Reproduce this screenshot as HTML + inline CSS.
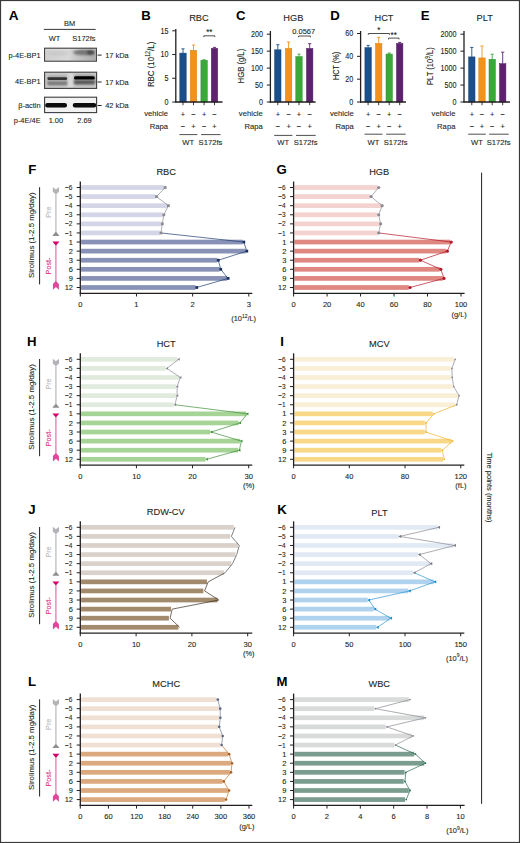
<!DOCTYPE html>
<html><head><meta charset="utf-8"><style>
html,body{margin:0;padding:0;background:#fff;}
body{width:520px;height:843px;overflow:hidden;}
svg{display:block;font-family:"Liberation Sans", sans-serif;}
</style></head><body>
<svg width="520" height="843" viewBox="0 0 520 843">
<rect x="0" y="0" width="520" height="843" fill="#fff"/>
<text transform="translate(13.60,20.20)" font-size="13.60" text-anchor="middle" fill="#000" stroke="#000" stroke-width="0" font-weight="bold" >A</text>
<text transform="translate(69.60,26.30) scale(0.950,1)" font-size="7.84" text-anchor="middle" fill="#231f20" stroke="#231f20" stroke-width="0.1" font-weight="normal" >BM</text>
<line x1="43.80" y1="29.40" x2="95.70" y2="29.40" stroke="#231f20" stroke-width="0.9" />
<text transform="translate(54.50,40.60) scale(0.950,1)" font-size="7.84" text-anchor="middle" fill="#231f20" stroke="#231f20" stroke-width="0.1" font-weight="normal" >WT</text>
<text transform="translate(83.90,40.60) scale(0.950,1)" font-size="7.84" text-anchor="middle" fill="#231f20" stroke="#231f20" stroke-width="0.1" font-weight="normal" >S172fs</text>
<defs>
<filter id="blur1" x="-20%" y="-50%" width="140%" height="200%"><feGaussianBlur stdDeviation="0.9"/></filter>
<filter id="blur2" x="-20%" y="-50%" width="140%" height="200%"><feGaussianBlur stdDeviation="0.6"/></filter>
<linearGradient id="g1" x1="0" x2="1" y1="0" y2="0">
<stop offset="0" stop-color="#cfcfcf"/><stop offset="0.45" stop-color="#d9d9d9"/><stop offset="0.6" stop-color="#c8c8c8"/><stop offset="1" stop-color="#a9a9a9"/></linearGradient>
</defs>
<rect x="44.80" y="48.40" width="51.40" height="12.60" fill="url(#g1)" />
<ellipse cx="84" cy="52.4" rx="11" ry="2.8" fill="#6a6a6a" opacity="0.85" filter="url(#blur1)"/>
<ellipse cx="90.5" cy="52.4" rx="3.5" ry="2.2" fill="#3c3c3c" opacity="0.8" filter="url(#blur1)"/>
<ellipse cx="58" cy="53.5" rx="11" ry="2.6" fill="#c4c4c4" opacity="0.6" filter="url(#blur1)"/>
<rect x="45.60" y="49.10" width="50.20" height="11.20" fill="none" stroke="#f4f4f4" stroke-width="0.6" opacity="0.7"/>
<rect x="44.60" y="48.20" width="51.80" height="13.00" fill="none" stroke="#3c3c3c" stroke-width="1.1"/>
<rect x="44.80" y="72.40" width="51.60" height="15.80" fill="#cbcbcb" />
<rect x="47" y="75.5" width="21" height="10" rx="3" fill="#a8a8a8" filter="url(#blur1)"/>
<rect x="73.5" y="74.8" width="22" height="10.5" rx="3" fill="#9a9a9a" filter="url(#blur1)"/>
<rect x="67.80" y="72.40" width="5.20" height="15.80" fill="#d8d8d8" filter="url(#blur1)"/>
<rect x="47.4" y="77.3" width="19.8" height="2.6" rx="1.3" fill="#333" filter="url(#blur2)"/>
<rect x="47.4" y="81.9" width="19.8" height="2.8" rx="1.3" fill="#707070" filter="url(#blur1)"/>
<rect x="74.0" y="76.2" width="20.8" height="3.4" rx="1.6" fill="#060606" filter="url(#blur2)"/>
<rect x="74.0" y="80.8" width="20.8" height="3.0" rx="1.4" fill="#4c4c4c" filter="url(#blur1)"/>
<rect x="44.60" y="72.20" width="52.00" height="16.20" fill="none" stroke="#3c3c3c" stroke-width="1.1"/>
<rect x="44.80" y="97.40" width="51.60" height="15.00" fill="#f2f2f2" />
<rect x="45.2" y="103.0" width="21.8" height="4.6" rx="2.1" fill="#0a0a0a" filter="url(#blur2)"/>
<rect x="72.8" y="103.0" width="23.4" height="4.6" rx="2.1" fill="#0a0a0a" filter="url(#blur2)"/>
<rect x="44.60" y="97.20" width="52.00" height="15.40" fill="none" stroke="#3c3c3c" stroke-width="1.1"/>
<text transform="translate(40.60,57.80) scale(0.950,1)" font-size="7.84" text-anchor="end" fill="#231f20" stroke="#231f20" stroke-width="0.1" font-weight="normal" >p-4E-BP1</text>
<text transform="translate(40.60,83.90) scale(0.950,1)" font-size="7.84" text-anchor="end" fill="#231f20" stroke="#231f20" stroke-width="0.1" font-weight="normal" >4E-BP1</text>
<text transform="translate(40.60,107.70) scale(0.950,1)" font-size="7.84" text-anchor="end" fill="#231f20" stroke="#231f20" stroke-width="0.1" font-weight="normal" >β-actin</text>
<text transform="translate(40.60,122.70) scale(0.950,1)" font-size="7.84" text-anchor="end" fill="#231f20" stroke="#231f20" stroke-width="0.1" font-weight="normal" >p-4E/4E</text>
<line x1="97.60" y1="55.10" x2="101.60" y2="55.10" stroke="#231f20" stroke-width="1.0" />
<text transform="translate(105.20,57.70) scale(0.950,1)" font-size="7.84" text-anchor="start" fill="#231f20" stroke="#231f20" stroke-width="0.1" font-weight="normal" >17 kDa</text>
<line x1="97.60" y1="82.00" x2="101.60" y2="82.00" stroke="#231f20" stroke-width="1.0" />
<text transform="translate(105.20,84.60) scale(0.950,1)" font-size="7.84" text-anchor="start" fill="#231f20" stroke="#231f20" stroke-width="0.1" font-weight="normal" >17 kDa</text>
<line x1="97.60" y1="105.50" x2="101.60" y2="105.50" stroke="#231f20" stroke-width="1.0" />
<text transform="translate(105.20,108.10) scale(0.950,1)" font-size="7.84" text-anchor="start" fill="#231f20" stroke="#231f20" stroke-width="0.1" font-weight="normal" >42 kDa</text>
<text transform="translate(55.90,122.70) scale(0.950,1)" font-size="7.84" text-anchor="middle" fill="#231f20" stroke="#231f20" stroke-width="0.1" font-weight="normal" >1.00</text>
<text transform="translate(84.50,122.70) scale(0.950,1)" font-size="7.84" text-anchor="middle" fill="#231f20" stroke="#231f20" stroke-width="0.1" font-weight="normal" >2.69</text>
<text transform="translate(145.90,20.30)" font-size="13.20" text-anchor="middle" fill="#000" stroke="#000" stroke-width="0" font-weight="bold" >B</text>
<text transform="translate(198.90,21.30) scale(0.950,1)" font-size="9.75" text-anchor="middle" fill="#231f20" stroke="#231f20" stroke-width="0.1" font-weight="normal" >RBC</text>
<line x1="183.00" y1="48.84" x2="183.00" y2="53.11" stroke="#1b4f8a" stroke-width="0.9" />
<line x1="181.40" y1="48.84" x2="184.60" y2="48.84" stroke="#1b4f8a" stroke-width="0.9" />
<rect x="179.80" y="53.11" width="6.40" height="48.89" fill="#1b4f8a" />
<rect x="179.80" y="53.11" width="6.40" height="48.89" fill="none" stroke="#173f70" stroke-width="0.5"/>
<line x1="193.50" y1="45.04" x2="193.50" y2="50.26" stroke="#f39218" stroke-width="0.9" />
<line x1="191.90" y1="45.04" x2="195.10" y2="45.04" stroke="#f39218" stroke-width="0.9" />
<rect x="190.30" y="50.26" width="6.40" height="51.74" fill="#f39218" />
<rect x="190.30" y="50.26" width="6.40" height="51.74" fill="none" stroke="#d67f14" stroke-width="0.5"/>
<line x1="204.10" y1="59.75" x2="204.10" y2="60.23" stroke="#3aa93a" stroke-width="0.9" />
<line x1="202.50" y1="59.75" x2="205.70" y2="59.75" stroke="#3aa93a" stroke-width="0.9" />
<rect x="200.90" y="60.23" width="6.40" height="41.77" fill="#3aa93a" />
<rect x="200.90" y="60.23" width="6.40" height="41.77" fill="none" stroke="#2f8f30" stroke-width="0.5"/>
<line x1="214.50" y1="47.41" x2="214.50" y2="48.36" stroke="#5e2170" stroke-width="0.9" />
<line x1="212.90" y1="47.41" x2="216.10" y2="47.41" stroke="#5e2170" stroke-width="0.9" />
<rect x="211.30" y="48.36" width="6.40" height="53.64" fill="#5e2170" />
<rect x="211.30" y="48.36" width="6.40" height="53.64" fill="none" stroke="#4a1a5a" stroke-width="0.5"/>
<line x1="175.80" y1="29.00" x2="175.80" y2="102.60" stroke="#231f20" stroke-width="1.3" />
<line x1="175.20" y1="102.00" x2="222.50" y2="102.00" stroke="#231f20" stroke-width="1.3" />
<line x1="183.00" y1="102.00" x2="183.00" y2="105.20" stroke="#231f20" stroke-width="0.9" />
<line x1="193.50" y1="102.00" x2="193.50" y2="105.20" stroke="#231f20" stroke-width="0.9" />
<line x1="204.10" y1="102.00" x2="204.10" y2="105.20" stroke="#231f20" stroke-width="0.9" />
<line x1="214.50" y1="102.00" x2="214.50" y2="105.20" stroke="#231f20" stroke-width="0.9" />
<line x1="172.20" y1="102.00" x2="175.80" y2="102.00" stroke="#231f20" stroke-width="1.0" />
<text transform="translate(168.40,104.85) scale(0.950,1)" font-size="8.48" text-anchor="end" fill="#231f20" stroke="#231f20" stroke-width="0.1" font-weight="normal"  textLength="4.21" lengthAdjust="spacingAndGlyphs">0</text>
<line x1="172.20" y1="78.27" x2="175.80" y2="78.27" stroke="#231f20" stroke-width="1.0" />
<text transform="translate(168.40,81.12) scale(0.950,1)" font-size="8.48" text-anchor="end" fill="#231f20" stroke="#231f20" stroke-width="0.1" font-weight="normal"  textLength="4.21" lengthAdjust="spacingAndGlyphs">5</text>
<line x1="172.20" y1="54.53" x2="175.80" y2="54.53" stroke="#231f20" stroke-width="1.0" />
<text transform="translate(168.40,57.38) scale(0.950,1)" font-size="8.48" text-anchor="end" fill="#231f20" stroke="#231f20" stroke-width="0.1" font-weight="normal"  textLength="8.42" lengthAdjust="spacingAndGlyphs">10</text>
<line x1="172.20" y1="30.80" x2="175.80" y2="30.80" stroke="#231f20" stroke-width="1.0" />
<text transform="translate(168.40,33.65) scale(0.950,1)" font-size="8.48" text-anchor="end" fill="#231f20" stroke="#231f20" stroke-width="0.1" font-weight="normal"  textLength="8.42" lengthAdjust="spacingAndGlyphs">15</text>
<text transform="translate(153.60,64.40) rotate(-90) scale(0.8221,1)" font-size="9.6" text-anchor="middle" fill="#231f20" stroke="#231f20" stroke-width="0.1" >RBC (10<tspan font-size="6.5" dy="-3.5">12</tspan><tspan dy="3.5">/L)</tspan></text>
<text transform="translate(168.00,116.40) scale(0.950,1)" font-size="8.06" text-anchor="end" fill="#231f20" stroke="#231f20" stroke-width="0.1" font-weight="normal" >vehicle</text>
<text transform="translate(168.00,128.60) scale(0.950,1)" font-size="8.06" text-anchor="end" fill="#231f20" stroke="#231f20" stroke-width="0.1" font-weight="normal" >Rapa</text>
<text transform="translate(183.00,116.60) scale(0.950,1)" font-size="7.84" text-anchor="middle" fill="#231f20" stroke="#231f20" stroke-width="0.1" font-weight="normal" >+</text>
<text transform="translate(183.00,128.80) scale(0.950,1)" font-size="7.84" text-anchor="middle" fill="#231f20" stroke="#231f20" stroke-width="0.1" font-weight="normal" >−</text>
<text transform="translate(193.50,116.60) scale(0.950,1)" font-size="7.84" text-anchor="middle" fill="#231f20" stroke="#231f20" stroke-width="0.1" font-weight="normal" >−</text>
<text transform="translate(193.50,128.80) scale(0.950,1)" font-size="7.84" text-anchor="middle" fill="#231f20" stroke="#231f20" stroke-width="0.1" font-weight="normal" >+</text>
<text transform="translate(204.10,116.60) scale(0.950,1)" font-size="7.84" text-anchor="middle" fill="#231f20" stroke="#231f20" stroke-width="0.1" font-weight="normal" >+</text>
<text transform="translate(204.10,128.80) scale(0.950,1)" font-size="7.84" text-anchor="middle" fill="#231f20" stroke="#231f20" stroke-width="0.1" font-weight="normal" >−</text>
<text transform="translate(214.50,116.60) scale(0.950,1)" font-size="7.84" text-anchor="middle" fill="#231f20" stroke="#231f20" stroke-width="0.1" font-weight="normal" >−</text>
<text transform="translate(214.50,128.80) scale(0.950,1)" font-size="7.84" text-anchor="middle" fill="#231f20" stroke="#231f20" stroke-width="0.1" font-weight="normal" >+</text>
<line x1="179.40" y1="134.60" x2="197.30" y2="134.60" stroke="#231f20" stroke-width="0.8" />
<line x1="201.10" y1="134.60" x2="220.50" y2="134.60" stroke="#231f20" stroke-width="0.8" />
<text transform="translate(188.25,145.40) scale(0.950,1)" font-size="8.06" text-anchor="middle" fill="#231f20" stroke="#231f20" stroke-width="0.1" font-weight="normal" >WT</text>
<text transform="translate(210.50,145.40) scale(0.950,1)" font-size="8.06" text-anchor="middle" fill="#231f20" stroke="#231f20" stroke-width="0.1" font-weight="normal" >S172fs</text>
<line x1="203.80" y1="35.80" x2="214.80" y2="35.80" stroke="#231f20" stroke-width="0.8" />
<line x1="203.80" y1="35.80" x2="203.80" y2="37.10" stroke="#231f20" stroke-width="0.8" />
<line x1="214.80" y1="35.80" x2="214.80" y2="37.10" stroke="#231f20" stroke-width="0.8" />
<text transform="translate(209.30,35.00) scale(0.950,1)" font-size="8.48" text-anchor="middle" fill="#231f20" stroke="#231f20" stroke-width="0.1" font-weight="normal" >**</text>
<text transform="translate(240.80,20.30)" font-size="13.20" text-anchor="middle" fill="#000" stroke="#000" stroke-width="0" font-weight="bold" >C</text>
<text transform="translate(293.40,21.30) scale(0.950,1)" font-size="9.75" text-anchor="middle" fill="#231f20" stroke="#231f20" stroke-width="0.1" font-weight="normal" >HGB</text>
<line x1="277.80" y1="44.71" x2="277.80" y2="49.79" stroke="#1b4f8a" stroke-width="0.9" />
<line x1="276.20" y1="44.71" x2="279.40" y2="44.71" stroke="#1b4f8a" stroke-width="0.9" />
<rect x="274.60" y="49.79" width="6.40" height="52.21" fill="#1b4f8a" />
<rect x="274.60" y="49.79" width="6.40" height="52.21" fill="none" stroke="#173f70" stroke-width="0.5"/>
<line x1="288.60" y1="42.00" x2="288.60" y2="48.44" stroke="#f39218" stroke-width="0.9" />
<line x1="287.00" y1="42.00" x2="290.20" y2="42.00" stroke="#f39218" stroke-width="0.9" />
<rect x="285.40" y="48.44" width="6.40" height="53.56" fill="#f39218" />
<rect x="285.40" y="48.44" width="6.40" height="53.56" fill="none" stroke="#d67f14" stroke-width="0.5"/>
<line x1="299.00" y1="54.20" x2="299.00" y2="56.57" stroke="#3aa93a" stroke-width="0.9" />
<line x1="297.40" y1="54.20" x2="300.60" y2="54.20" stroke="#3aa93a" stroke-width="0.9" />
<rect x="295.80" y="56.57" width="6.40" height="45.43" fill="#3aa93a" />
<rect x="295.80" y="56.57" width="6.40" height="45.43" fill="none" stroke="#2f8f30" stroke-width="0.5"/>
<line x1="309.70" y1="43.69" x2="309.70" y2="48.44" stroke="#5e2170" stroke-width="0.9" />
<line x1="308.10" y1="43.69" x2="311.30" y2="43.69" stroke="#5e2170" stroke-width="0.9" />
<rect x="306.50" y="48.44" width="6.40" height="53.56" fill="#5e2170" />
<rect x="306.50" y="48.44" width="6.40" height="53.56" fill="none" stroke="#4a1a5a" stroke-width="0.5"/>
<line x1="270.40" y1="31.00" x2="270.40" y2="102.60" stroke="#231f20" stroke-width="1.3" />
<line x1="269.80" y1="102.00" x2="315.60" y2="102.00" stroke="#231f20" stroke-width="1.3" />
<line x1="277.80" y1="102.00" x2="277.80" y2="105.20" stroke="#231f20" stroke-width="0.9" />
<line x1="288.60" y1="102.00" x2="288.60" y2="105.20" stroke="#231f20" stroke-width="0.9" />
<line x1="299.00" y1="102.00" x2="299.00" y2="105.20" stroke="#231f20" stroke-width="0.9" />
<line x1="309.70" y1="102.00" x2="309.70" y2="105.20" stroke="#231f20" stroke-width="0.9" />
<line x1="266.80" y1="102.00" x2="270.40" y2="102.00" stroke="#231f20" stroke-width="1.0" />
<text transform="translate(263.00,104.85) scale(0.950,1)" font-size="8.48" text-anchor="end" fill="#231f20" stroke="#231f20" stroke-width="0.1" font-weight="normal"  textLength="4.21" lengthAdjust="spacingAndGlyphs">0</text>
<line x1="266.80" y1="85.05" x2="270.40" y2="85.05" stroke="#231f20" stroke-width="1.0" />
<text transform="translate(263.00,87.90) scale(0.950,1)" font-size="8.48" text-anchor="end" fill="#231f20" stroke="#231f20" stroke-width="0.1" font-weight="normal"  textLength="8.42" lengthAdjust="spacingAndGlyphs">50</text>
<line x1="266.80" y1="68.10" x2="270.40" y2="68.10" stroke="#231f20" stroke-width="1.0" />
<text transform="translate(263.00,70.95) scale(0.950,1)" font-size="8.48" text-anchor="end" fill="#231f20" stroke="#231f20" stroke-width="0.1" font-weight="normal"  textLength="12.63" lengthAdjust="spacingAndGlyphs">100</text>
<line x1="266.80" y1="51.15" x2="270.40" y2="51.15" stroke="#231f20" stroke-width="1.0" />
<text transform="translate(263.00,54.00) scale(0.950,1)" font-size="8.48" text-anchor="end" fill="#231f20" stroke="#231f20" stroke-width="0.1" font-weight="normal"  textLength="12.63" lengthAdjust="spacingAndGlyphs">150</text>
<line x1="266.80" y1="34.20" x2="270.40" y2="34.20" stroke="#231f20" stroke-width="1.0" />
<text transform="translate(263.00,37.05) scale(0.950,1)" font-size="8.48" text-anchor="end" fill="#231f20" stroke="#231f20" stroke-width="0.1" font-weight="normal"  textLength="12.63" lengthAdjust="spacingAndGlyphs">200</text>
<text transform="translate(243.80,66.10) rotate(-90) scale(0.8006,1)" font-size="9.6" text-anchor="middle" fill="#231f20" stroke="#231f20" stroke-width="0.1" >HGB (g/L)</text>
<text transform="translate(262.70,116.40) scale(0.950,1)" font-size="8.06" text-anchor="end" fill="#231f20" stroke="#231f20" stroke-width="0.1" font-weight="normal" >vehicle</text>
<text transform="translate(262.70,128.60) scale(0.950,1)" font-size="8.06" text-anchor="end" fill="#231f20" stroke="#231f20" stroke-width="0.1" font-weight="normal" >Rapa</text>
<text transform="translate(277.80,116.60) scale(0.950,1)" font-size="7.84" text-anchor="middle" fill="#231f20" stroke="#231f20" stroke-width="0.1" font-weight="normal" >+</text>
<text transform="translate(277.80,128.80) scale(0.950,1)" font-size="7.84" text-anchor="middle" fill="#231f20" stroke="#231f20" stroke-width="0.1" font-weight="normal" >−</text>
<text transform="translate(288.60,116.60) scale(0.950,1)" font-size="7.84" text-anchor="middle" fill="#231f20" stroke="#231f20" stroke-width="0.1" font-weight="normal" >−</text>
<text transform="translate(288.60,128.80) scale(0.950,1)" font-size="7.84" text-anchor="middle" fill="#231f20" stroke="#231f20" stroke-width="0.1" font-weight="normal" >+</text>
<text transform="translate(299.00,116.60) scale(0.950,1)" font-size="7.84" text-anchor="middle" fill="#231f20" stroke="#231f20" stroke-width="0.1" font-weight="normal" >+</text>
<text transform="translate(299.00,128.80) scale(0.950,1)" font-size="7.84" text-anchor="middle" fill="#231f20" stroke="#231f20" stroke-width="0.1" font-weight="normal" >−</text>
<text transform="translate(309.70,116.60) scale(0.950,1)" font-size="7.84" text-anchor="middle" fill="#231f20" stroke="#231f20" stroke-width="0.1" font-weight="normal" >−</text>
<text transform="translate(309.70,128.80) scale(0.950,1)" font-size="7.84" text-anchor="middle" fill="#231f20" stroke="#231f20" stroke-width="0.1" font-weight="normal" >+</text>
<line x1="274.20" y1="135.40" x2="292.40" y2="135.40" stroke="#231f20" stroke-width="0.8" />
<line x1="296.00" y1="135.40" x2="315.70" y2="135.40" stroke="#231f20" stroke-width="0.8" />
<text transform="translate(283.20,145.40) scale(0.950,1)" font-size="8.06" text-anchor="middle" fill="#231f20" stroke="#231f20" stroke-width="0.1" font-weight="normal" >WT</text>
<text transform="translate(305.55,145.40) scale(0.950,1)" font-size="8.06" text-anchor="middle" fill="#231f20" stroke="#231f20" stroke-width="0.1" font-weight="normal" >S172fs</text>
<line x1="298.60" y1="36.00" x2="310.40" y2="36.00" stroke="#231f20" stroke-width="0.8" />
<line x1="298.60" y1="36.00" x2="298.60" y2="37.30" stroke="#231f20" stroke-width="0.8" />
<line x1="310.40" y1="36.00" x2="310.40" y2="37.30" stroke="#231f20" stroke-width="0.8" />
<text transform="translate(303.70,33.60) scale(0.950,1)" font-size="7.95" text-anchor="middle" fill="#231f20" stroke="#231f20" stroke-width="0.1" font-weight="normal" >0.0567</text>
<text transform="translate(334.90,20.30)" font-size="13.20" text-anchor="middle" fill="#000" stroke="#000" stroke-width="0" font-weight="bold" >D</text>
<text transform="translate(384.00,21.30) scale(0.950,1)" font-size="9.75" text-anchor="middle" fill="#231f20" stroke="#231f20" stroke-width="0.1" font-weight="normal" >HCT</text>
<line x1="368.10" y1="45.37" x2="368.10" y2="47.66" stroke="#1b4f8a" stroke-width="0.9" />
<line x1="366.50" y1="45.37" x2="369.70" y2="45.37" stroke="#1b4f8a" stroke-width="0.9" />
<rect x="364.90" y="47.66" width="6.40" height="54.34" fill="#1b4f8a" />
<rect x="364.90" y="47.66" width="6.40" height="54.34" fill="none" stroke="#173f70" stroke-width="0.5"/>
<line x1="378.70" y1="37.38" x2="378.70" y2="43.43" stroke="#f39218" stroke-width="0.9" />
<line x1="377.10" y1="37.38" x2="380.30" y2="37.38" stroke="#f39218" stroke-width="0.9" />
<rect x="375.50" y="43.43" width="6.40" height="58.57" fill="#f39218" />
<rect x="375.50" y="43.43" width="6.40" height="58.57" fill="none" stroke="#d67f14" stroke-width="0.5"/>
<line x1="389.20" y1="53.02" x2="389.20" y2="54.05" stroke="#3aa93a" stroke-width="0.9" />
<line x1="387.60" y1="53.02" x2="390.80" y2="53.02" stroke="#3aa93a" stroke-width="0.9" />
<rect x="386.00" y="54.05" width="6.40" height="47.95" fill="#3aa93a" />
<rect x="386.00" y="54.05" width="6.40" height="47.95" fill="none" stroke="#2f8f30" stroke-width="0.5"/>
<line x1="399.70" y1="42.41" x2="399.70" y2="43.43" stroke="#5e2170" stroke-width="0.9" />
<line x1="398.10" y1="42.41" x2="401.30" y2="42.41" stroke="#5e2170" stroke-width="0.9" />
<rect x="396.50" y="43.43" width="6.40" height="58.57" fill="#5e2170" />
<rect x="396.50" y="43.43" width="6.40" height="58.57" fill="none" stroke="#4a1a5a" stroke-width="0.5"/>
<line x1="360.60" y1="31.00" x2="360.60" y2="102.60" stroke="#231f20" stroke-width="1.3" />
<line x1="360.00" y1="102.00" x2="406.00" y2="102.00" stroke="#231f20" stroke-width="1.3" />
<line x1="368.10" y1="102.00" x2="368.10" y2="105.20" stroke="#231f20" stroke-width="0.9" />
<line x1="378.70" y1="102.00" x2="378.70" y2="105.20" stroke="#231f20" stroke-width="0.9" />
<line x1="389.20" y1="102.00" x2="389.20" y2="105.20" stroke="#231f20" stroke-width="0.9" />
<line x1="399.70" y1="102.00" x2="399.70" y2="105.20" stroke="#231f20" stroke-width="0.9" />
<line x1="357.00" y1="102.00" x2="360.60" y2="102.00" stroke="#231f20" stroke-width="1.0" />
<text transform="translate(353.20,104.85) scale(0.950,1)" font-size="8.48" text-anchor="end" fill="#231f20" stroke="#231f20" stroke-width="0.1" font-weight="normal"  textLength="4.21" lengthAdjust="spacingAndGlyphs">0</text>
<line x1="357.00" y1="79.17" x2="360.60" y2="79.17" stroke="#231f20" stroke-width="1.0" />
<text transform="translate(353.20,82.02) scale(0.950,1)" font-size="8.48" text-anchor="end" fill="#231f20" stroke="#231f20" stroke-width="0.1" font-weight="normal"  textLength="8.42" lengthAdjust="spacingAndGlyphs">20</text>
<line x1="357.00" y1="56.33" x2="360.60" y2="56.33" stroke="#231f20" stroke-width="1.0" />
<text transform="translate(353.20,59.18) scale(0.950,1)" font-size="8.48" text-anchor="end" fill="#231f20" stroke="#231f20" stroke-width="0.1" font-weight="normal"  textLength="8.42" lengthAdjust="spacingAndGlyphs">40</text>
<line x1="357.00" y1="33.50" x2="360.60" y2="33.50" stroke="#231f20" stroke-width="1.0" />
<text transform="translate(353.20,36.35) scale(0.950,1)" font-size="8.48" text-anchor="end" fill="#231f20" stroke="#231f20" stroke-width="0.1" font-weight="normal"  textLength="8.42" lengthAdjust="spacingAndGlyphs">60</text>
<text transform="translate(338.60,65.90) rotate(-90) scale(0.7537,1)" font-size="9.6" text-anchor="middle" fill="#231f20" stroke="#231f20" stroke-width="0.1" >HCT (%)</text>
<text transform="translate(353.80,116.40) scale(0.950,1)" font-size="8.06" text-anchor="end" fill="#231f20" stroke="#231f20" stroke-width="0.1" font-weight="normal" >vehicle</text>
<text transform="translate(353.80,128.60) scale(0.950,1)" font-size="8.06" text-anchor="end" fill="#231f20" stroke="#231f20" stroke-width="0.1" font-weight="normal" >Rapa</text>
<text transform="translate(368.10,116.60) scale(0.950,1)" font-size="7.84" text-anchor="middle" fill="#231f20" stroke="#231f20" stroke-width="0.1" font-weight="normal" >+</text>
<text transform="translate(368.10,128.80) scale(0.950,1)" font-size="7.84" text-anchor="middle" fill="#231f20" stroke="#231f20" stroke-width="0.1" font-weight="normal" >−</text>
<text transform="translate(378.70,116.60) scale(0.950,1)" font-size="7.84" text-anchor="middle" fill="#231f20" stroke="#231f20" stroke-width="0.1" font-weight="normal" >−</text>
<text transform="translate(378.70,128.80) scale(0.950,1)" font-size="7.84" text-anchor="middle" fill="#231f20" stroke="#231f20" stroke-width="0.1" font-weight="normal" >+</text>
<text transform="translate(389.20,116.60) scale(0.950,1)" font-size="7.84" text-anchor="middle" fill="#231f20" stroke="#231f20" stroke-width="0.1" font-weight="normal" >+</text>
<text transform="translate(389.20,128.80) scale(0.950,1)" font-size="7.84" text-anchor="middle" fill="#231f20" stroke="#231f20" stroke-width="0.1" font-weight="normal" >−</text>
<text transform="translate(399.70,116.60) scale(0.950,1)" font-size="7.84" text-anchor="middle" fill="#231f20" stroke="#231f20" stroke-width="0.1" font-weight="normal" >−</text>
<text transform="translate(399.70,128.80) scale(0.950,1)" font-size="7.84" text-anchor="middle" fill="#231f20" stroke="#231f20" stroke-width="0.1" font-weight="normal" >+</text>
<line x1="364.50" y1="134.20" x2="382.50" y2="134.20" stroke="#231f20" stroke-width="0.8" />
<line x1="386.20" y1="134.20" x2="405.70" y2="134.20" stroke="#231f20" stroke-width="0.8" />
<text transform="translate(373.40,145.40) scale(0.950,1)" font-size="8.06" text-anchor="middle" fill="#231f20" stroke="#231f20" stroke-width="0.1" font-weight="normal" >WT</text>
<text transform="translate(395.65,145.40) scale(0.950,1)" font-size="8.06" text-anchor="middle" fill="#231f20" stroke="#231f20" stroke-width="0.1" font-weight="normal" >S172fs</text>
<line x1="368.30" y1="33.50" x2="389.40" y2="33.50" stroke="#231f20" stroke-width="0.8" />
<line x1="368.30" y1="33.50" x2="368.30" y2="34.80" stroke="#231f20" stroke-width="0.8" />
<line x1="389.40" y1="33.50" x2="389.40" y2="34.80" stroke="#231f20" stroke-width="0.8" />
<text transform="translate(378.85,32.60) scale(0.950,1)" font-size="8.48" text-anchor="middle" fill="#231f20" stroke="#231f20" stroke-width="0.1" font-weight="normal" >*</text>
<line x1="388.50" y1="38.10" x2="399.00" y2="38.10" stroke="#231f20" stroke-width="0.8" />
<line x1="388.50" y1="38.10" x2="388.50" y2="39.40" stroke="#231f20" stroke-width="0.8" />
<line x1="399.00" y1="38.10" x2="399.00" y2="39.40" stroke="#231f20" stroke-width="0.8" />
<text transform="translate(393.75,37.60) scale(0.950,1)" font-size="8.48" text-anchor="middle" fill="#231f20" stroke="#231f20" stroke-width="0.1" font-weight="normal" >**</text>
<text transform="translate(425.20,20.30)" font-size="13.20" text-anchor="middle" fill="#000" stroke="#000" stroke-width="0" font-weight="bold" >E</text>
<text transform="translate(484.70,21.30) scale(0.950,1)" font-size="9.75" text-anchor="middle" fill="#231f20" stroke="#231f20" stroke-width="0.1" font-weight="normal" >PLT</text>
<line x1="471.80" y1="47.42" x2="471.80" y2="56.91" stroke="#1b4f8a" stroke-width="0.9" />
<line x1="470.20" y1="47.42" x2="473.40" y2="47.42" stroke="#1b4f8a" stroke-width="0.9" />
<rect x="468.60" y="56.91" width="6.40" height="45.09" fill="#1b4f8a" />
<rect x="468.60" y="56.91" width="6.40" height="45.09" fill="none" stroke="#173f70" stroke-width="0.5"/>
<line x1="482.00" y1="46.06" x2="482.00" y2="57.93" stroke="#f39218" stroke-width="0.9" />
<line x1="480.40" y1="46.06" x2="483.60" y2="46.06" stroke="#f39218" stroke-width="0.9" />
<rect x="478.80" y="57.93" width="6.40" height="44.07" fill="#f39218" />
<rect x="478.80" y="57.93" width="6.40" height="44.07" fill="none" stroke="#d67f14" stroke-width="0.5"/>
<line x1="492.20" y1="54.20" x2="492.20" y2="59.29" stroke="#3aa93a" stroke-width="0.9" />
<line x1="490.60" y1="54.20" x2="493.80" y2="54.20" stroke="#3aa93a" stroke-width="0.9" />
<rect x="489.00" y="59.29" width="6.40" height="42.71" fill="#3aa93a" />
<rect x="489.00" y="59.29" width="6.40" height="42.71" fill="none" stroke="#2f8f30" stroke-width="0.5"/>
<line x1="502.70" y1="52.17" x2="502.70" y2="63.69" stroke="#5e2170" stroke-width="0.9" />
<line x1="501.10" y1="52.17" x2="504.30" y2="52.17" stroke="#5e2170" stroke-width="0.9" />
<rect x="499.50" y="63.69" width="6.40" height="38.31" fill="#5e2170" />
<rect x="499.50" y="63.69" width="6.40" height="38.31" fill="none" stroke="#4a1a5a" stroke-width="0.5"/>
<line x1="464.00" y1="31.00" x2="464.00" y2="102.60" stroke="#231f20" stroke-width="1.3" />
<line x1="463.40" y1="102.00" x2="510.00" y2="102.00" stroke="#231f20" stroke-width="1.3" />
<line x1="471.80" y1="102.00" x2="471.80" y2="105.20" stroke="#231f20" stroke-width="0.9" />
<line x1="482.00" y1="102.00" x2="482.00" y2="105.20" stroke="#231f20" stroke-width="0.9" />
<line x1="492.20" y1="102.00" x2="492.20" y2="105.20" stroke="#231f20" stroke-width="0.9" />
<line x1="502.70" y1="102.00" x2="502.70" y2="105.20" stroke="#231f20" stroke-width="0.9" />
<line x1="460.40" y1="102.00" x2="464.00" y2="102.00" stroke="#231f20" stroke-width="1.0" />
<text transform="translate(456.60,104.85) scale(0.950,1)" font-size="8.48" text-anchor="end" fill="#231f20" stroke="#231f20" stroke-width="0.1" font-weight="normal"  textLength="4.21" lengthAdjust="spacingAndGlyphs">0</text>
<line x1="460.40" y1="85.05" x2="464.00" y2="85.05" stroke="#231f20" stroke-width="1.0" />
<text transform="translate(456.60,87.90) scale(0.950,1)" font-size="8.48" text-anchor="end" fill="#231f20" stroke="#231f20" stroke-width="0.1" font-weight="normal"  textLength="12.63" lengthAdjust="spacingAndGlyphs">500</text>
<line x1="460.40" y1="68.10" x2="464.00" y2="68.10" stroke="#231f20" stroke-width="1.0" />
<text transform="translate(456.60,70.95) scale(0.950,1)" font-size="8.48" text-anchor="end" fill="#231f20" stroke="#231f20" stroke-width="0.1" font-weight="normal"  textLength="16.84" lengthAdjust="spacingAndGlyphs">1000</text>
<line x1="460.40" y1="51.15" x2="464.00" y2="51.15" stroke="#231f20" stroke-width="1.0" />
<text transform="translate(456.60,54.00) scale(0.950,1)" font-size="8.48" text-anchor="end" fill="#231f20" stroke="#231f20" stroke-width="0.1" font-weight="normal"  textLength="16.84" lengthAdjust="spacingAndGlyphs">1500</text>
<line x1="460.40" y1="34.20" x2="464.00" y2="34.20" stroke="#231f20" stroke-width="1.0" />
<text transform="translate(456.60,37.05) scale(0.950,1)" font-size="8.48" text-anchor="end" fill="#231f20" stroke="#231f20" stroke-width="0.1" font-weight="normal"  textLength="16.84" lengthAdjust="spacingAndGlyphs">2000</text>
<text transform="translate(433.10,66.10) rotate(-90) scale(0.7883,1)" font-size="9.6" text-anchor="middle" fill="#231f20" stroke="#231f20" stroke-width="0.1" >PLT (10<tspan font-size="6.5" dy="-3.5">9</tspan><tspan dy="3.5">/L)</tspan></text>
<text transform="translate(455.40,116.40) scale(0.950,1)" font-size="8.06" text-anchor="end" fill="#231f20" stroke="#231f20" stroke-width="0.1" font-weight="normal" >vehicle</text>
<text transform="translate(455.40,128.60) scale(0.950,1)" font-size="8.06" text-anchor="end" fill="#231f20" stroke="#231f20" stroke-width="0.1" font-weight="normal" >Rapa</text>
<text transform="translate(471.80,116.60) scale(0.950,1)" font-size="7.84" text-anchor="middle" fill="#231f20" stroke="#231f20" stroke-width="0.1" font-weight="normal" >+</text>
<text transform="translate(471.80,128.80) scale(0.950,1)" font-size="7.84" text-anchor="middle" fill="#231f20" stroke="#231f20" stroke-width="0.1" font-weight="normal" >−</text>
<text transform="translate(482.00,116.60) scale(0.950,1)" font-size="7.84" text-anchor="middle" fill="#231f20" stroke="#231f20" stroke-width="0.1" font-weight="normal" >−</text>
<text transform="translate(482.00,128.80) scale(0.950,1)" font-size="7.84" text-anchor="middle" fill="#231f20" stroke="#231f20" stroke-width="0.1" font-weight="normal" >+</text>
<text transform="translate(492.20,116.60) scale(0.950,1)" font-size="7.84" text-anchor="middle" fill="#231f20" stroke="#231f20" stroke-width="0.1" font-weight="normal" >+</text>
<text transform="translate(492.20,128.80) scale(0.950,1)" font-size="7.84" text-anchor="middle" fill="#231f20" stroke="#231f20" stroke-width="0.1" font-weight="normal" >−</text>
<text transform="translate(502.70,116.60) scale(0.950,1)" font-size="7.84" text-anchor="middle" fill="#231f20" stroke="#231f20" stroke-width="0.1" font-weight="normal" >−</text>
<text transform="translate(502.70,128.80) scale(0.950,1)" font-size="7.84" text-anchor="middle" fill="#231f20" stroke="#231f20" stroke-width="0.1" font-weight="normal" >+</text>
<line x1="468.20" y1="134.20" x2="485.80" y2="134.20" stroke="#231f20" stroke-width="0.8" />
<line x1="489.20" y1="134.20" x2="508.70" y2="134.20" stroke="#231f20" stroke-width="0.8" />
<text transform="translate(476.90,145.40) scale(0.950,1)" font-size="8.06" text-anchor="middle" fill="#231f20" stroke="#231f20" stroke-width="0.1" font-weight="normal" >WT</text>
<text transform="translate(498.65,145.40) scale(0.950,1)" font-size="8.06" text-anchor="middle" fill="#231f20" stroke="#231f20" stroke-width="0.1" font-weight="normal" >S172fs</text>
<rect x="81.10" y="185.15" width="82.90" height="4.70" fill="#d4d6e7" />
<rect x="81.10" y="194.24" width="74.20" height="4.70" fill="#d4d6e7" />
<rect x="81.10" y="203.33" width="86.10" height="4.70" fill="#d4d6e7" />
<rect x="81.10" y="212.42" width="81.50" height="4.70" fill="#d4d6e7" />
<rect x="81.10" y="221.51" width="80.00" height="4.70" fill="#d4d6e7" />
<rect x="81.10" y="230.60" width="78.60" height="4.70" fill="#d4d6e7" />
<rect x="81.10" y="239.69" width="161.50" height="4.70" fill="#8891b6" />
<rect x="81.10" y="248.78" width="164.50" height="4.70" fill="#8891b6" />
<rect x="81.10" y="257.87" width="136.00" height="4.70" fill="#8891b6" />
<rect x="81.10" y="266.96" width="138.40" height="4.70" fill="#8891b6" />
<rect x="81.10" y="276.05" width="145.80" height="4.70" fill="#8891b6" />
<rect x="81.10" y="285.14" width="114.40" height="4.70" fill="#8891b6" />
<path d="M165.20,187.50 L156.50,196.59 L168.40,205.68 L163.80,214.77 L162.30,223.86 L160.90,232.95" fill="none" stroke="#8a8a92" stroke-width="0.7" />
<path d="M160.90,232.95 L243.80,242.04 L246.80,251.13 L218.30,260.22 L220.70,269.31 L228.10,278.40 L196.70,287.49" fill="none" stroke="#1d3d70" stroke-width="0.7" />
<rect x="163.80" y="186.10" width="2.80" height="2.80" fill="#8a8a92" />
<rect x="155.10" y="195.19" width="2.80" height="2.80" fill="#8a8a92" />
<rect x="167.00" y="204.28" width="2.80" height="2.80" fill="#8a8a92" />
<rect x="162.40" y="213.37" width="2.80" height="2.80" fill="#8a8a92" />
<rect x="160.90" y="222.46" width="2.80" height="2.80" fill="#8a8a92" />
<rect x="159.50" y="231.55" width="2.80" height="2.80" fill="#8a8a92" />
<rect x="242.40" y="240.64" width="2.80" height="2.80" fill="#1a2f5e" />
<rect x="245.40" y="249.73" width="2.80" height="2.80" fill="#1a2f5e" />
<rect x="216.90" y="258.82" width="2.80" height="2.80" fill="#1a2f5e" />
<rect x="219.30" y="267.91" width="2.80" height="2.80" fill="#1a2f5e" />
<rect x="226.70" y="277.00" width="2.80" height="2.80" fill="#1a2f5e" />
<rect x="195.30" y="286.09" width="2.80" height="2.80" fill="#1a2f5e" />
<line x1="80.30" y1="181.50" x2="80.30" y2="293.90" stroke="#231f20" stroke-width="1.3" />
<line x1="79.70" y1="293.30" x2="252.30" y2="293.30" stroke="#231f20" stroke-width="1.3" />
<line x1="76.70" y1="187.50" x2="80.30" y2="187.50" stroke="#231f20" stroke-width="1.0" />
<text transform="translate(72.40,190.10) scale(0.950,1)" font-size="7.84" text-anchor="end" fill="#231f20" stroke="#231f20" stroke-width="0.1" font-weight="normal"  textLength="7.79" lengthAdjust="spacingAndGlyphs">−6</text>
<line x1="76.70" y1="196.59" x2="80.30" y2="196.59" stroke="#231f20" stroke-width="1.0" />
<text transform="translate(72.40,199.19) scale(0.950,1)" font-size="7.84" text-anchor="end" fill="#231f20" stroke="#231f20" stroke-width="0.1" font-weight="normal"  textLength="7.79" lengthAdjust="spacingAndGlyphs">−5</text>
<line x1="76.70" y1="205.68" x2="80.30" y2="205.68" stroke="#231f20" stroke-width="1.0" />
<text transform="translate(72.40,208.28) scale(0.950,1)" font-size="7.84" text-anchor="end" fill="#231f20" stroke="#231f20" stroke-width="0.1" font-weight="normal"  textLength="7.79" lengthAdjust="spacingAndGlyphs">−4</text>
<line x1="76.70" y1="214.77" x2="80.30" y2="214.77" stroke="#231f20" stroke-width="1.0" />
<text transform="translate(72.40,217.37) scale(0.950,1)" font-size="7.84" text-anchor="end" fill="#231f20" stroke="#231f20" stroke-width="0.1" font-weight="normal"  textLength="7.79" lengthAdjust="spacingAndGlyphs">−3</text>
<line x1="76.70" y1="223.86" x2="80.30" y2="223.86" stroke="#231f20" stroke-width="1.0" />
<text transform="translate(72.40,226.46) scale(0.950,1)" font-size="7.84" text-anchor="end" fill="#231f20" stroke="#231f20" stroke-width="0.1" font-weight="normal"  textLength="7.79" lengthAdjust="spacingAndGlyphs">−2</text>
<line x1="76.70" y1="232.95" x2="80.30" y2="232.95" stroke="#231f20" stroke-width="1.0" />
<text transform="translate(72.40,235.55) scale(0.950,1)" font-size="7.84" text-anchor="end" fill="#231f20" stroke="#231f20" stroke-width="0.1" font-weight="normal"  textLength="7.79" lengthAdjust="spacingAndGlyphs">−1</text>
<line x1="76.70" y1="242.04" x2="80.30" y2="242.04" stroke="#231f20" stroke-width="1.0" />
<text transform="translate(73.00,244.64) scale(0.950,1)" font-size="7.84" text-anchor="end" fill="#231f20" stroke="#231f20" stroke-width="0.1" font-weight="normal" >1</text>
<line x1="76.70" y1="251.13" x2="80.30" y2="251.13" stroke="#231f20" stroke-width="1.0" />
<text transform="translate(73.00,253.73) scale(0.950,1)" font-size="7.84" text-anchor="end" fill="#231f20" stroke="#231f20" stroke-width="0.1" font-weight="normal" >2</text>
<line x1="76.70" y1="260.22" x2="80.30" y2="260.22" stroke="#231f20" stroke-width="1.0" />
<text transform="translate(73.00,262.82) scale(0.950,1)" font-size="7.84" text-anchor="end" fill="#231f20" stroke="#231f20" stroke-width="0.1" font-weight="normal" >3</text>
<line x1="76.70" y1="269.31" x2="80.30" y2="269.31" stroke="#231f20" stroke-width="1.0" />
<text transform="translate(73.00,271.91) scale(0.950,1)" font-size="7.84" text-anchor="end" fill="#231f20" stroke="#231f20" stroke-width="0.1" font-weight="normal" >6</text>
<line x1="76.70" y1="278.40" x2="80.30" y2="278.40" stroke="#231f20" stroke-width="1.0" />
<text transform="translate(73.00,281.00) scale(0.950,1)" font-size="7.84" text-anchor="end" fill="#231f20" stroke="#231f20" stroke-width="0.1" font-weight="normal" >9</text>
<line x1="76.70" y1="287.49" x2="80.30" y2="287.49" stroke="#231f20" stroke-width="1.0" />
<text transform="translate(73.00,290.09) scale(0.950,1)" font-size="7.84" text-anchor="end" fill="#231f20" stroke="#231f20" stroke-width="0.1" font-weight="normal" >12</text>
<line x1="80.30" y1="293.30" x2="80.30" y2="296.50" stroke="#231f20" stroke-width="1.0" />
<text transform="translate(80.30,307.20) scale(0.950,1)" font-size="7.95" text-anchor="middle" fill="#231f20" stroke="#231f20" stroke-width="0.1" font-weight="normal" >0</text>
<line x1="136.47" y1="293.30" x2="136.47" y2="296.50" stroke="#231f20" stroke-width="1.0" />
<text transform="translate(136.47,307.20) scale(0.950,1)" font-size="7.95" text-anchor="middle" fill="#231f20" stroke="#231f20" stroke-width="0.1" font-weight="normal" >1</text>
<line x1="192.64" y1="293.30" x2="192.64" y2="296.50" stroke="#231f20" stroke-width="1.0" />
<text transform="translate(192.64,307.20) scale(0.950,1)" font-size="7.95" text-anchor="middle" fill="#231f20" stroke="#231f20" stroke-width="0.1" font-weight="normal" >2</text>
<line x1="248.81" y1="293.30" x2="248.81" y2="296.50" stroke="#231f20" stroke-width="1.0" />
<text transform="translate(248.81,307.20) scale(0.950,1)" font-size="7.95" text-anchor="middle" fill="#231f20" stroke="#231f20" stroke-width="0.1" font-weight="normal" >3</text>
<text transform="translate(256.10,320.90) scale(0.950,1)" font-size="7.84" text-anchor="end" fill="#231f20" stroke="#231f20" stroke-width="0.1" font-weight="normal" >(10<tspan font-size="5.2" dy="-3.4">12</tspan><tspan dy="3.4">/L)</tspan></text>
<text transform="translate(166.20,175.20) scale(0.950,1)" font-size="9.75" text-anchor="middle" fill="#231f20" stroke="#231f20" stroke-width="0.1" font-weight="normal" >RBC</text>
<text transform="translate(32.40,173.70)" font-size="13.20" text-anchor="middle" fill="#000" stroke="#000" stroke-width="0" font-weight="bold" >F</text>
<line x1="39.60" y1="187.20" x2="39.60" y2="284.40" stroke="#231f20" stroke-width="1.0" />
<text transform="translate(34.20,235.20) rotate(-90)" font-size="7.85" text-anchor="middle" fill="#231f20" stroke="#231f20" stroke-width="0.1"  textLength="85.5" lengthAdjust="spacingAndGlyphs">Sirolimus (1-2.5 mg/day)</text>
<path d="M52.8,187.0 L55.9,189.5 L59.0,187.0 L59.0,191.7 L55.9,194.4 L52.8,191.7 Z" fill="#b4b4b8" stroke="none" stroke-width="1.0" />
<line x1="55.90" y1="193.00" x2="55.90" y2="232.50" stroke="#c2c2c6" stroke-width="1.4" />
<path d="M55.9,231.6 L59.5,235.9 L52.3,235.9 Z" fill="#8e8e92" stroke="none" stroke-width="1.0" />
<text transform="translate(51.0,212.20) rotate(-90)" font-size="7.2" text-anchor="middle" fill="#bcbcc0" stroke="#bcbcc0" stroke-width="0.12">Pre</text>
<path d="M52.4,241.6 L59.4,241.6 L55.9,245.79999999999998 Z" fill="#d4006c" stroke="none" stroke-width="1.0" />
<line x1="55.90" y1="245.10" x2="55.90" y2="282.00" stroke="#e27aac" stroke-width="1.3" />
<path d="M55.9,281.1 L58.9,284.1 L58.9,289.70000000000005 L55.9,286.90000000000003 L52.9,289.70000000000005 L52.9,284.1 Z" fill="#e0479a" stroke="none" stroke-width="1.0" />
<text transform="translate(51.0,266.00) rotate(-90)" font-size="7.2" text-anchor="middle" fill="#e0318a" stroke="#e0318a" stroke-width="0.12">Post-</text>
<rect x="294.40" y="185.15" width="83.10" height="4.70" fill="#f3d2cf" />
<rect x="294.40" y="194.24" width="75.40" height="4.70" fill="#f3d2cf" />
<rect x="294.40" y="203.33" width="86.50" height="4.70" fill="#f3d2cf" />
<rect x="294.40" y="212.42" width="83.10" height="4.70" fill="#f3d2cf" />
<rect x="294.40" y="221.51" width="85.00" height="4.70" fill="#f3d2cf" />
<rect x="294.40" y="230.60" width="83.10" height="4.70" fill="#f3d2cf" />
<rect x="294.40" y="239.69" width="155.60" height="4.70" fill="#df8881" />
<rect x="294.40" y="248.78" width="151.70" height="4.70" fill="#df8881" />
<rect x="294.40" y="257.87" width="124.80" height="4.70" fill="#df8881" />
<rect x="294.40" y="266.96" width="145.20" height="4.70" fill="#df8881" />
<rect x="294.40" y="276.05" width="148.40" height="4.70" fill="#df8881" />
<rect x="294.40" y="285.14" width="114.40" height="4.70" fill="#df8881" />
<path d="M378.70,187.50 L371.00,196.59 L382.10,205.68 L378.70,214.77 L380.60,223.86 L378.70,232.95" fill="none" stroke="#8a8a92" stroke-width="0.7" />
<path d="M378.70,232.95 L451.20,242.04 L447.30,251.13 L420.40,260.22 L440.80,269.31 L444.00,278.40 L410.00,287.49" fill="none" stroke="#b2182b" stroke-width="0.7" />
<circle cx="378.70" cy="187.50" r="1.60" fill="#8a8a92"/>
<circle cx="371.00" cy="196.59" r="1.60" fill="#8a8a92"/>
<circle cx="382.10" cy="205.68" r="1.60" fill="#8a8a92"/>
<circle cx="378.70" cy="214.77" r="1.60" fill="#8a8a92"/>
<circle cx="380.60" cy="223.86" r="1.60" fill="#8a8a92"/>
<circle cx="378.70" cy="232.95" r="1.60" fill="#8a8a92"/>
<circle cx="451.20" cy="242.04" r="1.60" fill="#b2182b"/>
<circle cx="447.30" cy="251.13" r="1.60" fill="#b2182b"/>
<circle cx="420.40" cy="260.22" r="1.60" fill="#b2182b"/>
<circle cx="440.80" cy="269.31" r="1.60" fill="#b2182b"/>
<circle cx="444.00" cy="278.40" r="1.60" fill="#b2182b"/>
<circle cx="410.00" cy="287.49" r="1.60" fill="#b2182b"/>
<line x1="293.60" y1="181.50" x2="293.60" y2="293.90" stroke="#231f20" stroke-width="1.3" />
<line x1="293.00" y1="293.30" x2="464.60" y2="293.30" stroke="#231f20" stroke-width="1.3" />
<line x1="290.00" y1="187.50" x2="293.60" y2="187.50" stroke="#231f20" stroke-width="1.0" />
<text transform="translate(285.70,190.10) scale(0.950,1)" font-size="7.84" text-anchor="end" fill="#231f20" stroke="#231f20" stroke-width="0.1" font-weight="normal"  textLength="7.79" lengthAdjust="spacingAndGlyphs">−6</text>
<line x1="290.00" y1="196.59" x2="293.60" y2="196.59" stroke="#231f20" stroke-width="1.0" />
<text transform="translate(285.70,199.19) scale(0.950,1)" font-size="7.84" text-anchor="end" fill="#231f20" stroke="#231f20" stroke-width="0.1" font-weight="normal"  textLength="7.79" lengthAdjust="spacingAndGlyphs">−5</text>
<line x1="290.00" y1="205.68" x2="293.60" y2="205.68" stroke="#231f20" stroke-width="1.0" />
<text transform="translate(285.70,208.28) scale(0.950,1)" font-size="7.84" text-anchor="end" fill="#231f20" stroke="#231f20" stroke-width="0.1" font-weight="normal"  textLength="7.79" lengthAdjust="spacingAndGlyphs">−4</text>
<line x1="290.00" y1="214.77" x2="293.60" y2="214.77" stroke="#231f20" stroke-width="1.0" />
<text transform="translate(285.70,217.37) scale(0.950,1)" font-size="7.84" text-anchor="end" fill="#231f20" stroke="#231f20" stroke-width="0.1" font-weight="normal"  textLength="7.79" lengthAdjust="spacingAndGlyphs">−3</text>
<line x1="290.00" y1="223.86" x2="293.60" y2="223.86" stroke="#231f20" stroke-width="1.0" />
<text transform="translate(285.70,226.46) scale(0.950,1)" font-size="7.84" text-anchor="end" fill="#231f20" stroke="#231f20" stroke-width="0.1" font-weight="normal"  textLength="7.79" lengthAdjust="spacingAndGlyphs">−2</text>
<line x1="290.00" y1="232.95" x2="293.60" y2="232.95" stroke="#231f20" stroke-width="1.0" />
<text transform="translate(285.70,235.55) scale(0.950,1)" font-size="7.84" text-anchor="end" fill="#231f20" stroke="#231f20" stroke-width="0.1" font-weight="normal"  textLength="7.79" lengthAdjust="spacingAndGlyphs">−1</text>
<line x1="290.00" y1="242.04" x2="293.60" y2="242.04" stroke="#231f20" stroke-width="1.0" />
<text transform="translate(286.30,244.64) scale(0.950,1)" font-size="7.84" text-anchor="end" fill="#231f20" stroke="#231f20" stroke-width="0.1" font-weight="normal" >1</text>
<line x1="290.00" y1="251.13" x2="293.60" y2="251.13" stroke="#231f20" stroke-width="1.0" />
<text transform="translate(286.30,253.73) scale(0.950,1)" font-size="7.84" text-anchor="end" fill="#231f20" stroke="#231f20" stroke-width="0.1" font-weight="normal" >2</text>
<line x1="290.00" y1="260.22" x2="293.60" y2="260.22" stroke="#231f20" stroke-width="1.0" />
<text transform="translate(286.30,262.82) scale(0.950,1)" font-size="7.84" text-anchor="end" fill="#231f20" stroke="#231f20" stroke-width="0.1" font-weight="normal" >3</text>
<line x1="290.00" y1="269.31" x2="293.60" y2="269.31" stroke="#231f20" stroke-width="1.0" />
<text transform="translate(286.30,271.91) scale(0.950,1)" font-size="7.84" text-anchor="end" fill="#231f20" stroke="#231f20" stroke-width="0.1" font-weight="normal" >6</text>
<line x1="290.00" y1="278.40" x2="293.60" y2="278.40" stroke="#231f20" stroke-width="1.0" />
<text transform="translate(286.30,281.00) scale(0.950,1)" font-size="7.84" text-anchor="end" fill="#231f20" stroke="#231f20" stroke-width="0.1" font-weight="normal" >9</text>
<line x1="290.00" y1="287.49" x2="293.60" y2="287.49" stroke="#231f20" stroke-width="1.0" />
<text transform="translate(286.30,290.09) scale(0.950,1)" font-size="7.84" text-anchor="end" fill="#231f20" stroke="#231f20" stroke-width="0.1" font-weight="normal" >12</text>
<line x1="293.60" y1="293.30" x2="293.60" y2="296.50" stroke="#231f20" stroke-width="1.0" />
<text transform="translate(293.60,307.20) scale(0.950,1)" font-size="7.95" text-anchor="middle" fill="#231f20" stroke="#231f20" stroke-width="0.1" font-weight="normal" >0</text>
<line x1="327.08" y1="293.30" x2="327.08" y2="296.50" stroke="#231f20" stroke-width="1.0" />
<text transform="translate(327.08,307.20) scale(0.950,1)" font-size="7.95" text-anchor="middle" fill="#231f20" stroke="#231f20" stroke-width="0.1" font-weight="normal" >20</text>
<line x1="360.56" y1="293.30" x2="360.56" y2="296.50" stroke="#231f20" stroke-width="1.0" />
<text transform="translate(360.56,307.20) scale(0.950,1)" font-size="7.95" text-anchor="middle" fill="#231f20" stroke="#231f20" stroke-width="0.1" font-weight="normal" >40</text>
<line x1="394.04" y1="293.30" x2="394.04" y2="296.50" stroke="#231f20" stroke-width="1.0" />
<text transform="translate(394.04,307.20) scale(0.950,1)" font-size="7.95" text-anchor="middle" fill="#231f20" stroke="#231f20" stroke-width="0.1" font-weight="normal" >60</text>
<line x1="427.52" y1="293.30" x2="427.52" y2="296.50" stroke="#231f20" stroke-width="1.0" />
<text transform="translate(427.52,307.20) scale(0.950,1)" font-size="7.95" text-anchor="middle" fill="#231f20" stroke="#231f20" stroke-width="0.1" font-weight="normal" >80</text>
<line x1="461.00" y1="293.30" x2="461.00" y2="296.50" stroke="#231f20" stroke-width="1.0" />
<text transform="translate(461.00,307.20) scale(0.950,1)" font-size="7.95" text-anchor="middle" fill="#231f20" stroke="#231f20" stroke-width="0.1" font-weight="normal" >100</text>
<text transform="translate(466.80,316.50) scale(0.950,1)" font-size="7.84" text-anchor="end" fill="#231f20" stroke="#231f20" stroke-width="0.1" font-weight="normal" >(g/L)</text>
<text transform="translate(379.20,175.20) scale(0.950,1)" font-size="9.75" text-anchor="middle" fill="#231f20" stroke="#231f20" stroke-width="0.1" font-weight="normal" >HGB</text>
<text transform="translate(281.60,173.70)" font-size="13.20" text-anchor="middle" fill="#000" stroke="#000" stroke-width="0" font-weight="bold" >G</text>
<rect x="81.10" y="356.95" width="96.30" height="4.70" fill="#e0ebdd" />
<rect x="81.10" y="366.04" width="84.60" height="4.70" fill="#e0ebdd" />
<rect x="81.10" y="375.13" width="98.00" height="4.70" fill="#e0ebdd" />
<rect x="81.10" y="384.22" width="94.80" height="4.70" fill="#e0ebdd" />
<rect x="81.10" y="393.31" width="94.80" height="4.70" fill="#e0ebdd" />
<rect x="81.10" y="402.40" width="92.70" height="4.70" fill="#e0ebdd" />
<rect x="81.10" y="411.49" width="165.00" height="4.70" fill="#a6d396" />
<rect x="81.10" y="420.58" width="157.60" height="4.70" fill="#a6d396" />
<rect x="81.10" y="429.67" width="129.00" height="4.70" fill="#a6d396" />
<rect x="81.10" y="438.76" width="159.10" height="4.70" fill="#a6d396" />
<rect x="81.10" y="447.85" width="157.00" height="4.70" fill="#a6d396" />
<rect x="81.10" y="456.94" width="124.40" height="4.70" fill="#a6d396" />
<path d="M178.60,359.30 L166.90,368.39 L180.30,377.48 L177.10,386.57 L177.10,395.66 L175.00,404.75" fill="none" stroke="#8a8a92" stroke-width="0.7" />
<path d="M175.00,404.75 L247.30,413.84 L239.90,422.93 L211.30,432.02 L241.40,441.11 L239.30,450.20 L206.70,459.29" fill="none" stroke="#3f8f3a" stroke-width="0.7" />
<path d="M177.16,359.30 L179.72,357.86 L179.72,360.74 Z" fill="#8a8a92" stroke="none" stroke-width="1.0" />
<path d="M165.46,368.39 L168.02,366.95 L168.02,369.83 Z" fill="#8a8a92" stroke="none" stroke-width="1.0" />
<path d="M178.86,377.48 L181.42,376.04 L181.42,378.92 Z" fill="#8a8a92" stroke="none" stroke-width="1.0" />
<path d="M175.66,386.57 L178.22,385.13 L178.22,388.01 Z" fill="#8a8a92" stroke="none" stroke-width="1.0" />
<path d="M175.66,395.66 L178.22,394.22 L178.22,397.10 Z" fill="#8a8a92" stroke="none" stroke-width="1.0" />
<path d="M173.56,404.75 L176.12,403.31 L176.12,406.19 Z" fill="#8a8a92" stroke="none" stroke-width="1.0" />
<path d="M245.86,413.84 L248.42,412.40 L248.42,415.28 Z" fill="#3f8f3a" stroke="none" stroke-width="1.0" />
<path d="M238.46,422.93 L241.02,421.49 L241.02,424.37 Z" fill="#3f8f3a" stroke="none" stroke-width="1.0" />
<path d="M209.86,432.02 L212.42,430.58 L212.42,433.46 Z" fill="#3f8f3a" stroke="none" stroke-width="1.0" />
<path d="M239.96,441.11 L242.52,439.67 L242.52,442.55 Z" fill="#3f8f3a" stroke="none" stroke-width="1.0" />
<path d="M237.86,450.20 L240.42,448.76 L240.42,451.64 Z" fill="#3f8f3a" stroke="none" stroke-width="1.0" />
<path d="M205.26,459.29 L207.82,457.85 L207.82,460.73 Z" fill="#3f8f3a" stroke="none" stroke-width="1.0" />
<line x1="80.30" y1="353.30" x2="80.30" y2="465.70" stroke="#231f20" stroke-width="1.3" />
<line x1="79.70" y1="465.10" x2="252.30" y2="465.10" stroke="#231f20" stroke-width="1.3" />
<line x1="76.70" y1="359.30" x2="80.30" y2="359.30" stroke="#231f20" stroke-width="1.0" />
<text transform="translate(72.40,361.90) scale(0.950,1)" font-size="7.84" text-anchor="end" fill="#231f20" stroke="#231f20" stroke-width="0.1" font-weight="normal"  textLength="7.79" lengthAdjust="spacingAndGlyphs">−6</text>
<line x1="76.70" y1="368.39" x2="80.30" y2="368.39" stroke="#231f20" stroke-width="1.0" />
<text transform="translate(72.40,370.99) scale(0.950,1)" font-size="7.84" text-anchor="end" fill="#231f20" stroke="#231f20" stroke-width="0.1" font-weight="normal"  textLength="7.79" lengthAdjust="spacingAndGlyphs">−5</text>
<line x1="76.70" y1="377.48" x2="80.30" y2="377.48" stroke="#231f20" stroke-width="1.0" />
<text transform="translate(72.40,380.08) scale(0.950,1)" font-size="7.84" text-anchor="end" fill="#231f20" stroke="#231f20" stroke-width="0.1" font-weight="normal"  textLength="7.79" lengthAdjust="spacingAndGlyphs">−4</text>
<line x1="76.70" y1="386.57" x2="80.30" y2="386.57" stroke="#231f20" stroke-width="1.0" />
<text transform="translate(72.40,389.17) scale(0.950,1)" font-size="7.84" text-anchor="end" fill="#231f20" stroke="#231f20" stroke-width="0.1" font-weight="normal"  textLength="7.79" lengthAdjust="spacingAndGlyphs">−3</text>
<line x1="76.70" y1="395.66" x2="80.30" y2="395.66" stroke="#231f20" stroke-width="1.0" />
<text transform="translate(72.40,398.26) scale(0.950,1)" font-size="7.84" text-anchor="end" fill="#231f20" stroke="#231f20" stroke-width="0.1" font-weight="normal"  textLength="7.79" lengthAdjust="spacingAndGlyphs">−2</text>
<line x1="76.70" y1="404.75" x2="80.30" y2="404.75" stroke="#231f20" stroke-width="1.0" />
<text transform="translate(72.40,407.35) scale(0.950,1)" font-size="7.84" text-anchor="end" fill="#231f20" stroke="#231f20" stroke-width="0.1" font-weight="normal"  textLength="7.79" lengthAdjust="spacingAndGlyphs">−1</text>
<line x1="76.70" y1="413.84" x2="80.30" y2="413.84" stroke="#231f20" stroke-width="1.0" />
<text transform="translate(73.00,416.44) scale(0.950,1)" font-size="7.84" text-anchor="end" fill="#231f20" stroke="#231f20" stroke-width="0.1" font-weight="normal" >1</text>
<line x1="76.70" y1="422.93" x2="80.30" y2="422.93" stroke="#231f20" stroke-width="1.0" />
<text transform="translate(73.00,425.53) scale(0.950,1)" font-size="7.84" text-anchor="end" fill="#231f20" stroke="#231f20" stroke-width="0.1" font-weight="normal" >2</text>
<line x1="76.70" y1="432.02" x2="80.30" y2="432.02" stroke="#231f20" stroke-width="1.0" />
<text transform="translate(73.00,434.62) scale(0.950,1)" font-size="7.84" text-anchor="end" fill="#231f20" stroke="#231f20" stroke-width="0.1" font-weight="normal" >3</text>
<line x1="76.70" y1="441.11" x2="80.30" y2="441.11" stroke="#231f20" stroke-width="1.0" />
<text transform="translate(73.00,443.71) scale(0.950,1)" font-size="7.84" text-anchor="end" fill="#231f20" stroke="#231f20" stroke-width="0.1" font-weight="normal" >6</text>
<line x1="76.70" y1="450.20" x2="80.30" y2="450.20" stroke="#231f20" stroke-width="1.0" />
<text transform="translate(73.00,452.80) scale(0.950,1)" font-size="7.84" text-anchor="end" fill="#231f20" stroke="#231f20" stroke-width="0.1" font-weight="normal" >9</text>
<line x1="76.70" y1="459.29" x2="80.30" y2="459.29" stroke="#231f20" stroke-width="1.0" />
<text transform="translate(73.00,461.89) scale(0.950,1)" font-size="7.84" text-anchor="end" fill="#231f20" stroke="#231f20" stroke-width="0.1" font-weight="normal" >12</text>
<line x1="80.30" y1="465.10" x2="80.30" y2="468.30" stroke="#231f20" stroke-width="1.0" />
<text transform="translate(80.30,479.00) scale(0.950,1)" font-size="7.95" text-anchor="middle" fill="#231f20" stroke="#231f20" stroke-width="0.1" font-weight="normal" >0</text>
<line x1="136.43" y1="465.10" x2="136.43" y2="468.30" stroke="#231f20" stroke-width="1.0" />
<text transform="translate(136.43,479.00) scale(0.950,1)" font-size="7.95" text-anchor="middle" fill="#231f20" stroke="#231f20" stroke-width="0.1" font-weight="normal" >10</text>
<line x1="192.56" y1="465.10" x2="192.56" y2="468.30" stroke="#231f20" stroke-width="1.0" />
<text transform="translate(192.56,479.00) scale(0.950,1)" font-size="7.95" text-anchor="middle" fill="#231f20" stroke="#231f20" stroke-width="0.1" font-weight="normal" >20</text>
<line x1="248.69" y1="465.10" x2="248.69" y2="468.30" stroke="#231f20" stroke-width="1.0" />
<text transform="translate(248.69,479.00) scale(0.950,1)" font-size="7.95" text-anchor="middle" fill="#231f20" stroke="#231f20" stroke-width="0.1" font-weight="normal" >30</text>
<text transform="translate(254.50,488.30) scale(0.950,1)" font-size="7.84" text-anchor="end" fill="#231f20" stroke="#231f20" stroke-width="0.1" font-weight="normal" >(%)</text>
<text transform="translate(166.20,347.00) scale(0.950,1)" font-size="9.75" text-anchor="middle" fill="#231f20" stroke="#231f20" stroke-width="0.1" font-weight="normal" >HCT</text>
<text transform="translate(31.80,345.50)" font-size="13.20" text-anchor="middle" fill="#000" stroke="#000" stroke-width="0" font-weight="bold" >H</text>
<line x1="39.60" y1="359.00" x2="39.60" y2="456.20" stroke="#231f20" stroke-width="1.0" />
<text transform="translate(34.20,407.00) rotate(-90)" font-size="7.85" text-anchor="middle" fill="#231f20" stroke="#231f20" stroke-width="0.1"  textLength="85.5" lengthAdjust="spacingAndGlyphs">Sirolimus (1-2.5 mg/day)</text>
<path d="M52.8,358.8 L55.9,361.3 L59.0,358.8 L59.0,363.5 L55.9,366.2 L52.8,363.5 Z" fill="#b4b4b8" stroke="none" stroke-width="1.0" />
<line x1="55.90" y1="364.80" x2="55.90" y2="404.30" stroke="#c2c2c6" stroke-width="1.4" />
<path d="M55.9,403.40000000000003 L59.5,407.7 L52.3,407.7 Z" fill="#8e8e92" stroke="none" stroke-width="1.0" />
<text transform="translate(51.0,384.00) rotate(-90)" font-size="7.2" text-anchor="middle" fill="#bcbcc0" stroke="#bcbcc0" stroke-width="0.12">Pre</text>
<path d="M52.4,413.40000000000003 L59.4,413.40000000000003 L55.9,417.6 Z" fill="#d4006c" stroke="none" stroke-width="1.0" />
<line x1="55.90" y1="416.90" x2="55.90" y2="453.80" stroke="#e27aac" stroke-width="1.3" />
<path d="M55.9,452.9 L58.9,455.9 L58.9,461.5 L55.9,458.7 L52.9,461.5 L52.9,455.9 Z" fill="#e0479a" stroke="none" stroke-width="1.0" />
<text transform="translate(51.0,437.80) rotate(-90)" font-size="7.2" text-anchor="middle" fill="#e0318a" stroke="#e0318a" stroke-width="0.12">Post-</text>
<rect x="294.40" y="356.95" width="159.60" height="4.70" fill="#f9efd6" />
<rect x="294.40" y="366.04" width="156.30" height="4.70" fill="#f9efd6" />
<rect x="294.40" y="375.13" width="156.60" height="4.70" fill="#f9efd6" />
<rect x="294.40" y="384.22" width="158.10" height="4.70" fill="#f9efd6" />
<rect x="294.40" y="393.31" width="163.40" height="4.70" fill="#f9efd6" />
<rect x="294.40" y="402.40" width="161.10" height="4.70" fill="#f9efd6" />
<rect x="294.40" y="411.49" width="138.20" height="4.70" fill="#f8d886" />
<rect x="294.40" y="420.58" width="130.40" height="4.70" fill="#f8d886" />
<rect x="294.40" y="429.67" width="130.40" height="4.70" fill="#f8d886" />
<rect x="294.40" y="438.76" width="157.10" height="4.70" fill="#f8d886" />
<rect x="294.40" y="447.85" width="146.70" height="4.70" fill="#f8d886" />
<rect x="294.40" y="456.94" width="148.60" height="4.70" fill="#f8d886" />
<path d="M455.20,359.30 L451.90,368.39 L452.20,377.48 L453.70,386.57 L459.00,395.66 L456.70,404.75" fill="none" stroke="#8a8a92" stroke-width="0.7" />
<path d="M456.70,404.75 L433.80,413.84 L426.00,422.93 L426.00,432.02 L452.70,441.11 L442.30,450.20 L444.20,459.29" fill="none" stroke="#eeb02a" stroke-width="0.7" />
<circle cx="455.20" cy="359.30" r="0.88" fill="#8a8a92"/>
<circle cx="451.90" cy="368.39" r="0.88" fill="#8a8a92"/>
<circle cx="452.20" cy="377.48" r="0.88" fill="#8a8a92"/>
<circle cx="453.70" cy="386.57" r="0.88" fill="#8a8a92"/>
<circle cx="459.00" cy="395.66" r="0.88" fill="#8a8a92"/>
<circle cx="456.70" cy="404.75" r="0.88" fill="#8a8a92"/>
<circle cx="433.80" cy="413.84" r="0.88" fill="#eeb02a"/>
<circle cx="426.00" cy="422.93" r="0.88" fill="#eeb02a"/>
<circle cx="426.00" cy="432.02" r="0.88" fill="#eeb02a"/>
<circle cx="452.70" cy="441.11" r="0.88" fill="#eeb02a"/>
<circle cx="442.30" cy="450.20" r="0.88" fill="#eeb02a"/>
<circle cx="444.20" cy="459.29" r="0.88" fill="#eeb02a"/>
<line x1="293.60" y1="353.30" x2="293.60" y2="465.70" stroke="#231f20" stroke-width="1.3" />
<line x1="293.00" y1="465.10" x2="464.30" y2="465.10" stroke="#231f20" stroke-width="1.3" />
<line x1="290.00" y1="359.30" x2="293.60" y2="359.30" stroke="#231f20" stroke-width="1.0" />
<text transform="translate(285.70,361.90) scale(0.950,1)" font-size="7.84" text-anchor="end" fill="#231f20" stroke="#231f20" stroke-width="0.1" font-weight="normal"  textLength="7.79" lengthAdjust="spacingAndGlyphs">−6</text>
<line x1="290.00" y1="368.39" x2="293.60" y2="368.39" stroke="#231f20" stroke-width="1.0" />
<text transform="translate(285.70,370.99) scale(0.950,1)" font-size="7.84" text-anchor="end" fill="#231f20" stroke="#231f20" stroke-width="0.1" font-weight="normal"  textLength="7.79" lengthAdjust="spacingAndGlyphs">−5</text>
<line x1="290.00" y1="377.48" x2="293.60" y2="377.48" stroke="#231f20" stroke-width="1.0" />
<text transform="translate(285.70,380.08) scale(0.950,1)" font-size="7.84" text-anchor="end" fill="#231f20" stroke="#231f20" stroke-width="0.1" font-weight="normal"  textLength="7.79" lengthAdjust="spacingAndGlyphs">−4</text>
<line x1="290.00" y1="386.57" x2="293.60" y2="386.57" stroke="#231f20" stroke-width="1.0" />
<text transform="translate(285.70,389.17) scale(0.950,1)" font-size="7.84" text-anchor="end" fill="#231f20" stroke="#231f20" stroke-width="0.1" font-weight="normal"  textLength="7.79" lengthAdjust="spacingAndGlyphs">−3</text>
<line x1="290.00" y1="395.66" x2="293.60" y2="395.66" stroke="#231f20" stroke-width="1.0" />
<text transform="translate(285.70,398.26) scale(0.950,1)" font-size="7.84" text-anchor="end" fill="#231f20" stroke="#231f20" stroke-width="0.1" font-weight="normal"  textLength="7.79" lengthAdjust="spacingAndGlyphs">−2</text>
<line x1="290.00" y1="404.75" x2="293.60" y2="404.75" stroke="#231f20" stroke-width="1.0" />
<text transform="translate(285.70,407.35) scale(0.950,1)" font-size="7.84" text-anchor="end" fill="#231f20" stroke="#231f20" stroke-width="0.1" font-weight="normal"  textLength="7.79" lengthAdjust="spacingAndGlyphs">−1</text>
<line x1="290.00" y1="413.84" x2="293.60" y2="413.84" stroke="#231f20" stroke-width="1.0" />
<text transform="translate(286.30,416.44) scale(0.950,1)" font-size="7.84" text-anchor="end" fill="#231f20" stroke="#231f20" stroke-width="0.1" font-weight="normal" >1</text>
<line x1="290.00" y1="422.93" x2="293.60" y2="422.93" stroke="#231f20" stroke-width="1.0" />
<text transform="translate(286.30,425.53) scale(0.950,1)" font-size="7.84" text-anchor="end" fill="#231f20" stroke="#231f20" stroke-width="0.1" font-weight="normal" >2</text>
<line x1="290.00" y1="432.02" x2="293.60" y2="432.02" stroke="#231f20" stroke-width="1.0" />
<text transform="translate(286.30,434.62) scale(0.950,1)" font-size="7.84" text-anchor="end" fill="#231f20" stroke="#231f20" stroke-width="0.1" font-weight="normal" >3</text>
<line x1="290.00" y1="441.11" x2="293.60" y2="441.11" stroke="#231f20" stroke-width="1.0" />
<text transform="translate(286.30,443.71) scale(0.950,1)" font-size="7.84" text-anchor="end" fill="#231f20" stroke="#231f20" stroke-width="0.1" font-weight="normal" >6</text>
<line x1="290.00" y1="450.20" x2="293.60" y2="450.20" stroke="#231f20" stroke-width="1.0" />
<text transform="translate(286.30,452.80) scale(0.950,1)" font-size="7.84" text-anchor="end" fill="#231f20" stroke="#231f20" stroke-width="0.1" font-weight="normal" >9</text>
<line x1="290.00" y1="459.29" x2="293.60" y2="459.29" stroke="#231f20" stroke-width="1.0" />
<text transform="translate(286.30,461.89) scale(0.950,1)" font-size="7.84" text-anchor="end" fill="#231f20" stroke="#231f20" stroke-width="0.1" font-weight="normal" >12</text>
<line x1="293.60" y1="465.10" x2="293.60" y2="468.30" stroke="#231f20" stroke-width="1.0" />
<text transform="translate(293.60,479.00) scale(0.950,1)" font-size="7.95" text-anchor="middle" fill="#231f20" stroke="#231f20" stroke-width="0.1" font-weight="normal" >0</text>
<line x1="349.32" y1="465.10" x2="349.32" y2="468.30" stroke="#231f20" stroke-width="1.0" />
<text transform="translate(349.32,479.00) scale(0.950,1)" font-size="7.95" text-anchor="middle" fill="#231f20" stroke="#231f20" stroke-width="0.1" font-weight="normal" >40</text>
<line x1="405.04" y1="465.10" x2="405.04" y2="468.30" stroke="#231f20" stroke-width="1.0" />
<text transform="translate(405.04,479.00) scale(0.950,1)" font-size="7.95" text-anchor="middle" fill="#231f20" stroke="#231f20" stroke-width="0.1" font-weight="normal" >80</text>
<line x1="460.76" y1="465.10" x2="460.76" y2="468.30" stroke="#231f20" stroke-width="1.0" />
<text transform="translate(460.76,479.00) scale(0.950,1)" font-size="7.95" text-anchor="middle" fill="#231f20" stroke="#231f20" stroke-width="0.1" font-weight="normal" >120</text>
<text transform="translate(466.50,488.30) scale(0.950,1)" font-size="7.84" text-anchor="end" fill="#231f20" stroke="#231f20" stroke-width="0.1" font-weight="normal" >(fL)</text>
<text transform="translate(379.40,347.00) scale(0.950,1)" font-size="9.75" text-anchor="middle" fill="#231f20" stroke="#231f20" stroke-width="0.1" font-weight="normal" >MCV</text>
<text transform="translate(282.00,345.50)" font-size="13.20" text-anchor="middle" fill="#000" stroke="#000" stroke-width="0" font-weight="bold" >I</text>
<rect x="81.10" y="524.95" width="152.70" height="4.70" fill="#dad1cb" />
<rect x="81.10" y="534.04" width="149.10" height="4.70" fill="#dad1cb" />
<rect x="81.10" y="543.13" width="157.00" height="4.70" fill="#dad1cb" />
<rect x="81.10" y="552.22" width="154.40" height="4.70" fill="#dad1cb" />
<rect x="81.10" y="561.31" width="150.20" height="4.70" fill="#dad1cb" />
<rect x="81.10" y="570.40" width="142.80" height="4.70" fill="#dad1cb" />
<rect x="81.10" y="579.49" width="125.90" height="4.70" fill="#a28a6c" />
<rect x="81.10" y="588.58" width="122.30" height="4.70" fill="#a28a6c" />
<rect x="81.10" y="597.67" width="136.50" height="4.70" fill="#a28a6c" />
<rect x="81.10" y="606.76" width="89.90" height="4.70" fill="#a28a6c" />
<rect x="81.10" y="615.85" width="87.80" height="4.70" fill="#a28a6c" />
<rect x="81.10" y="624.94" width="97.30" height="4.70" fill="#a28a6c" />
<path d="M235.00,527.30 L231.40,536.39 L239.30,545.48 L236.70,554.57 L232.50,563.66 L225.10,572.75" fill="none" stroke="#4a4a4a" stroke-width="0.7" />
<path d="M225.10,572.75 L208.20,581.84 L204.60,590.93 L218.80,600.02 L172.20,609.11 L170.10,618.20 L179.60,627.29" fill="none" stroke="#3a2c22" stroke-width="0.7" />
<line x1="80.30" y1="521.30" x2="80.30" y2="633.70" stroke="#231f20" stroke-width="1.3" />
<line x1="79.70" y1="633.10" x2="252.30" y2="633.10" stroke="#231f20" stroke-width="1.3" />
<line x1="76.70" y1="527.30" x2="80.30" y2="527.30" stroke="#231f20" stroke-width="1.0" />
<text transform="translate(72.40,529.90) scale(0.950,1)" font-size="7.84" text-anchor="end" fill="#231f20" stroke="#231f20" stroke-width="0.1" font-weight="normal"  textLength="7.79" lengthAdjust="spacingAndGlyphs">−6</text>
<line x1="76.70" y1="536.39" x2="80.30" y2="536.39" stroke="#231f20" stroke-width="1.0" />
<text transform="translate(72.40,538.99) scale(0.950,1)" font-size="7.84" text-anchor="end" fill="#231f20" stroke="#231f20" stroke-width="0.1" font-weight="normal"  textLength="7.79" lengthAdjust="spacingAndGlyphs">−5</text>
<line x1="76.70" y1="545.48" x2="80.30" y2="545.48" stroke="#231f20" stroke-width="1.0" />
<text transform="translate(72.40,548.08) scale(0.950,1)" font-size="7.84" text-anchor="end" fill="#231f20" stroke="#231f20" stroke-width="0.1" font-weight="normal"  textLength="7.79" lengthAdjust="spacingAndGlyphs">−4</text>
<line x1="76.70" y1="554.57" x2="80.30" y2="554.57" stroke="#231f20" stroke-width="1.0" />
<text transform="translate(72.40,557.17) scale(0.950,1)" font-size="7.84" text-anchor="end" fill="#231f20" stroke="#231f20" stroke-width="0.1" font-weight="normal"  textLength="7.79" lengthAdjust="spacingAndGlyphs">−3</text>
<line x1="76.70" y1="563.66" x2="80.30" y2="563.66" stroke="#231f20" stroke-width="1.0" />
<text transform="translate(72.40,566.26) scale(0.950,1)" font-size="7.84" text-anchor="end" fill="#231f20" stroke="#231f20" stroke-width="0.1" font-weight="normal"  textLength="7.79" lengthAdjust="spacingAndGlyphs">−2</text>
<line x1="76.70" y1="572.75" x2="80.30" y2="572.75" stroke="#231f20" stroke-width="1.0" />
<text transform="translate(72.40,575.35) scale(0.950,1)" font-size="7.84" text-anchor="end" fill="#231f20" stroke="#231f20" stroke-width="0.1" font-weight="normal"  textLength="7.79" lengthAdjust="spacingAndGlyphs">−1</text>
<line x1="76.70" y1="581.84" x2="80.30" y2="581.84" stroke="#231f20" stroke-width="1.0" />
<text transform="translate(73.00,584.44) scale(0.950,1)" font-size="7.84" text-anchor="end" fill="#231f20" stroke="#231f20" stroke-width="0.1" font-weight="normal" >1</text>
<line x1="76.70" y1="590.93" x2="80.30" y2="590.93" stroke="#231f20" stroke-width="1.0" />
<text transform="translate(73.00,593.53) scale(0.950,1)" font-size="7.84" text-anchor="end" fill="#231f20" stroke="#231f20" stroke-width="0.1" font-weight="normal" >2</text>
<line x1="76.70" y1="600.02" x2="80.30" y2="600.02" stroke="#231f20" stroke-width="1.0" />
<text transform="translate(73.00,602.62) scale(0.950,1)" font-size="7.84" text-anchor="end" fill="#231f20" stroke="#231f20" stroke-width="0.1" font-weight="normal" >3</text>
<line x1="76.70" y1="609.11" x2="80.30" y2="609.11" stroke="#231f20" stroke-width="1.0" />
<text transform="translate(73.00,611.71) scale(0.950,1)" font-size="7.84" text-anchor="end" fill="#231f20" stroke="#231f20" stroke-width="0.1" font-weight="normal" >6</text>
<line x1="76.70" y1="618.20" x2="80.30" y2="618.20" stroke="#231f20" stroke-width="1.0" />
<text transform="translate(73.00,620.80) scale(0.950,1)" font-size="7.84" text-anchor="end" fill="#231f20" stroke="#231f20" stroke-width="0.1" font-weight="normal" >9</text>
<line x1="76.70" y1="627.29" x2="80.30" y2="627.29" stroke="#231f20" stroke-width="1.0" />
<text transform="translate(73.00,629.89) scale(0.950,1)" font-size="7.84" text-anchor="end" fill="#231f20" stroke="#231f20" stroke-width="0.1" font-weight="normal" >12</text>
<line x1="80.30" y1="633.10" x2="80.30" y2="636.30" stroke="#231f20" stroke-width="1.0" />
<text transform="translate(80.30,647.00) scale(0.950,1)" font-size="7.95" text-anchor="middle" fill="#231f20" stroke="#231f20" stroke-width="0.1" font-weight="normal" >0</text>
<line x1="136.10" y1="633.10" x2="136.10" y2="636.30" stroke="#231f20" stroke-width="1.0" />
<text transform="translate(136.10,647.00) scale(0.950,1)" font-size="7.95" text-anchor="middle" fill="#231f20" stroke="#231f20" stroke-width="0.1" font-weight="normal" >10</text>
<line x1="191.90" y1="633.10" x2="191.90" y2="636.30" stroke="#231f20" stroke-width="1.0" />
<text transform="translate(191.90,647.00) scale(0.950,1)" font-size="7.95" text-anchor="middle" fill="#231f20" stroke="#231f20" stroke-width="0.1" font-weight="normal" >20</text>
<line x1="247.70" y1="633.10" x2="247.70" y2="636.30" stroke="#231f20" stroke-width="1.0" />
<text transform="translate(247.70,647.00) scale(0.950,1)" font-size="7.95" text-anchor="middle" fill="#231f20" stroke="#231f20" stroke-width="0.1" font-weight="normal" >30</text>
<text transform="translate(254.50,656.30) scale(0.950,1)" font-size="7.84" text-anchor="end" fill="#231f20" stroke="#231f20" stroke-width="0.1" font-weight="normal" >(%)</text>
<text transform="translate(165.70,515.00) scale(0.950,1)" font-size="9.75" text-anchor="middle" fill="#231f20" stroke="#231f20" stroke-width="0.1" font-weight="normal" >RDW-CV</text>
<text transform="translate(32.00,513.50)" font-size="13.20" text-anchor="middle" fill="#000" stroke="#000" stroke-width="0" font-weight="bold" >J</text>
<line x1="39.60" y1="527.00" x2="39.60" y2="624.20" stroke="#231f20" stroke-width="1.0" />
<text transform="translate(34.20,575.00) rotate(-90)" font-size="7.85" text-anchor="middle" fill="#231f20" stroke="#231f20" stroke-width="0.1"  textLength="85.5" lengthAdjust="spacingAndGlyphs">Sirolimus (1-2.5 mg/day)</text>
<path d="M52.8,526.8 L55.9,529.3 L59.0,526.8 L59.0,531.5 L55.9,534.1999999999999 L52.8,531.5 Z" fill="#b4b4b8" stroke="none" stroke-width="1.0" />
<line x1="55.90" y1="532.80" x2="55.90" y2="572.30" stroke="#c2c2c6" stroke-width="1.4" />
<path d="M55.9,571.4 L59.5,575.6999999999999 L52.3,575.6999999999999 Z" fill="#8e8e92" stroke="none" stroke-width="1.0" />
<text transform="translate(51.0,552.00) rotate(-90)" font-size="7.2" text-anchor="middle" fill="#bcbcc0" stroke="#bcbcc0" stroke-width="0.12">Pre</text>
<path d="M52.4,581.4 L59.4,581.4 L55.9,585.6 Z" fill="#d4006c" stroke="none" stroke-width="1.0" />
<line x1="55.90" y1="584.90" x2="55.90" y2="621.80" stroke="#e27aac" stroke-width="1.3" />
<path d="M55.9,620.9 L58.9,623.9 L58.9,629.5 L55.9,626.6999999999999 L52.9,629.5 L52.9,623.9 Z" fill="#e0479a" stroke="none" stroke-width="1.0" />
<text transform="translate(51.0,605.80) rotate(-90)" font-size="7.2" text-anchor="middle" fill="#e0318a" stroke="#e0318a" stroke-width="0.12">Post-</text>
<rect x="294.40" y="524.95" width="143.20" height="4.70" fill="#e1eaf4" />
<rect x="294.40" y="534.04" width="104.30" height="4.70" fill="#e1eaf4" />
<rect x="294.40" y="543.13" width="159.10" height="4.70" fill="#e1eaf4" />
<rect x="294.40" y="552.22" width="123.80" height="4.70" fill="#e1eaf4" />
<rect x="294.40" y="561.31" width="135.40" height="4.70" fill="#e1eaf4" />
<rect x="294.40" y="570.40" width="118.70" height="4.70" fill="#e1eaf4" />
<rect x="294.40" y="579.49" width="139.40" height="4.70" fill="#afd3ef" />
<rect x="294.40" y="588.58" width="113.90" height="4.70" fill="#afd3ef" />
<rect x="294.40" y="597.67" width="73.20" height="4.70" fill="#afd3ef" />
<rect x="294.40" y="606.76" width="79.40" height="4.70" fill="#afd3ef" />
<rect x="294.40" y="615.85" width="95.20" height="4.70" fill="#afd3ef" />
<rect x="294.40" y="624.94" width="81.90" height="4.70" fill="#afd3ef" />
<path d="M438.80,527.30 L399.90,536.39 L454.70,545.48 L419.40,554.57 L431.00,563.66 L414.30,572.75" fill="none" stroke="#8a8a92" stroke-width="0.7" />
<path d="M414.30,572.75 L435.00,581.84 L409.50,590.93 L368.80,600.02 L375.00,609.11 L390.80,618.20 L377.50,627.29" fill="none" stroke="#2f95d2" stroke-width="0.7" />
<path d="M437.18,527.30 L440.06,525.68 L440.06,528.92 Z" fill="#7a7a82" stroke="none" stroke-width="1.0" />
<path d="M398.28,536.39 L401.16,534.77 L401.16,538.01 Z" fill="#7a7a82" stroke="none" stroke-width="1.0" />
<path d="M453.08,545.48 L455.96,543.86 L455.96,547.10 Z" fill="#7a7a82" stroke="none" stroke-width="1.0" />
<path d="M417.78,554.57 L420.66,552.95 L420.66,556.19 Z" fill="#7a7a82" stroke="none" stroke-width="1.0" />
<path d="M429.38,563.66 L432.26,562.04 L432.26,565.28 Z" fill="#7a7a82" stroke="none" stroke-width="1.0" />
<path d="M412.68,572.75 L415.56,571.13 L415.56,574.37 Z" fill="#7a7a82" stroke="none" stroke-width="1.0" />
<path d="M433.38,581.84 L436.26,580.22 L436.26,583.46 Z" fill="#1f8ccc" stroke="none" stroke-width="1.0" />
<path d="M407.88,590.93 L410.76,589.31 L410.76,592.55 Z" fill="#1f8ccc" stroke="none" stroke-width="1.0" />
<path d="M367.18,600.02 L370.06,598.40 L370.06,601.64 Z" fill="#1f8ccc" stroke="none" stroke-width="1.0" />
<path d="M373.38,609.11 L376.26,607.49 L376.26,610.73 Z" fill="#1f8ccc" stroke="none" stroke-width="1.0" />
<path d="M389.18,618.20 L392.06,616.58 L392.06,619.82 Z" fill="#1f8ccc" stroke="none" stroke-width="1.0" />
<path d="M375.88,627.29 L378.76,625.67 L378.76,628.91 Z" fill="#1f8ccc" stroke="none" stroke-width="1.0" />
<line x1="293.60" y1="521.30" x2="293.60" y2="633.70" stroke="#231f20" stroke-width="1.3" />
<line x1="293.00" y1="633.10" x2="464.30" y2="633.10" stroke="#231f20" stroke-width="1.3" />
<line x1="290.00" y1="527.30" x2="293.60" y2="527.30" stroke="#231f20" stroke-width="1.0" />
<text transform="translate(285.70,529.90) scale(0.950,1)" font-size="7.84" text-anchor="end" fill="#231f20" stroke="#231f20" stroke-width="0.1" font-weight="normal"  textLength="7.79" lengthAdjust="spacingAndGlyphs">−6</text>
<line x1="290.00" y1="536.39" x2="293.60" y2="536.39" stroke="#231f20" stroke-width="1.0" />
<text transform="translate(285.70,538.99) scale(0.950,1)" font-size="7.84" text-anchor="end" fill="#231f20" stroke="#231f20" stroke-width="0.1" font-weight="normal"  textLength="7.79" lengthAdjust="spacingAndGlyphs">−5</text>
<line x1="290.00" y1="545.48" x2="293.60" y2="545.48" stroke="#231f20" stroke-width="1.0" />
<text transform="translate(285.70,548.08) scale(0.950,1)" font-size="7.84" text-anchor="end" fill="#231f20" stroke="#231f20" stroke-width="0.1" font-weight="normal"  textLength="7.79" lengthAdjust="spacingAndGlyphs">−4</text>
<line x1="290.00" y1="554.57" x2="293.60" y2="554.57" stroke="#231f20" stroke-width="1.0" />
<text transform="translate(285.70,557.17) scale(0.950,1)" font-size="7.84" text-anchor="end" fill="#231f20" stroke="#231f20" stroke-width="0.1" font-weight="normal"  textLength="7.79" lengthAdjust="spacingAndGlyphs">−3</text>
<line x1="290.00" y1="563.66" x2="293.60" y2="563.66" stroke="#231f20" stroke-width="1.0" />
<text transform="translate(285.70,566.26) scale(0.950,1)" font-size="7.84" text-anchor="end" fill="#231f20" stroke="#231f20" stroke-width="0.1" font-weight="normal"  textLength="7.79" lengthAdjust="spacingAndGlyphs">−2</text>
<line x1="290.00" y1="572.75" x2="293.60" y2="572.75" stroke="#231f20" stroke-width="1.0" />
<text transform="translate(285.70,575.35) scale(0.950,1)" font-size="7.84" text-anchor="end" fill="#231f20" stroke="#231f20" stroke-width="0.1" font-weight="normal"  textLength="7.79" lengthAdjust="spacingAndGlyphs">−1</text>
<line x1="290.00" y1="581.84" x2="293.60" y2="581.84" stroke="#231f20" stroke-width="1.0" />
<text transform="translate(286.30,584.44) scale(0.950,1)" font-size="7.84" text-anchor="end" fill="#231f20" stroke="#231f20" stroke-width="0.1" font-weight="normal" >1</text>
<line x1="290.00" y1="590.93" x2="293.60" y2="590.93" stroke="#231f20" stroke-width="1.0" />
<text transform="translate(286.30,593.53) scale(0.950,1)" font-size="7.84" text-anchor="end" fill="#231f20" stroke="#231f20" stroke-width="0.1" font-weight="normal" >2</text>
<line x1="290.00" y1="600.02" x2="293.60" y2="600.02" stroke="#231f20" stroke-width="1.0" />
<text transform="translate(286.30,602.62) scale(0.950,1)" font-size="7.84" text-anchor="end" fill="#231f20" stroke="#231f20" stroke-width="0.1" font-weight="normal" >3</text>
<line x1="290.00" y1="609.11" x2="293.60" y2="609.11" stroke="#231f20" stroke-width="1.0" />
<text transform="translate(286.30,611.71) scale(0.950,1)" font-size="7.84" text-anchor="end" fill="#231f20" stroke="#231f20" stroke-width="0.1" font-weight="normal" >6</text>
<line x1="290.00" y1="618.20" x2="293.60" y2="618.20" stroke="#231f20" stroke-width="1.0" />
<text transform="translate(286.30,620.80) scale(0.950,1)" font-size="7.84" text-anchor="end" fill="#231f20" stroke="#231f20" stroke-width="0.1" font-weight="normal" >9</text>
<line x1="290.00" y1="627.29" x2="293.60" y2="627.29" stroke="#231f20" stroke-width="1.0" />
<text transform="translate(286.30,629.89) scale(0.950,1)" font-size="7.84" text-anchor="end" fill="#231f20" stroke="#231f20" stroke-width="0.1" font-weight="normal" >12</text>
<line x1="293.60" y1="633.10" x2="293.60" y2="636.30" stroke="#231f20" stroke-width="1.0" />
<text transform="translate(293.60,647.00) scale(0.950,1)" font-size="7.95" text-anchor="middle" fill="#231f20" stroke="#231f20" stroke-width="0.1" font-weight="normal" >0</text>
<line x1="349.30" y1="633.10" x2="349.30" y2="636.30" stroke="#231f20" stroke-width="1.0" />
<text transform="translate(349.30,647.00) scale(0.950,1)" font-size="7.95" text-anchor="middle" fill="#231f20" stroke="#231f20" stroke-width="0.1" font-weight="normal" >50</text>
<line x1="405.00" y1="633.10" x2="405.00" y2="636.30" stroke="#231f20" stroke-width="1.0" />
<text transform="translate(405.00,647.00) scale(0.950,1)" font-size="7.95" text-anchor="middle" fill="#231f20" stroke="#231f20" stroke-width="0.1" font-weight="normal" >100</text>
<line x1="460.70" y1="633.10" x2="460.70" y2="636.30" stroke="#231f20" stroke-width="1.0" />
<text transform="translate(460.70,647.00) scale(0.950,1)" font-size="7.95" text-anchor="middle" fill="#231f20" stroke="#231f20" stroke-width="0.1" font-weight="normal" >150</text>
<text transform="translate(468.10,660.70) scale(0.950,1)" font-size="7.84" text-anchor="end" fill="#231f20" stroke="#231f20" stroke-width="0.1" font-weight="normal" >(10<tspan font-size="5.2" dy="-3.4">9</tspan><tspan dy="3.4">/L)</tspan></text>
<text transform="translate(379.40,516.40) scale(0.950,1)" font-size="9.75" text-anchor="middle" fill="#231f20" stroke="#231f20" stroke-width="0.1" font-weight="normal" >PLT</text>
<text transform="translate(282.10,513.50)" font-size="13.20" text-anchor="middle" fill="#000" stroke="#000" stroke-width="0" font-weight="bold" >K</text>
<rect x="81.10" y="697.25" width="135.50" height="4.70" fill="#f0e0d3" />
<rect x="81.10" y="706.34" width="137.90" height="4.70" fill="#f0e0d3" />
<rect x="81.10" y="715.43" width="138.00" height="4.70" fill="#f0e0d3" />
<rect x="81.10" y="724.52" width="136.90" height="4.70" fill="#f0e0d3" />
<rect x="81.10" y="733.61" width="140.40" height="4.70" fill="#f0e0d3" />
<rect x="81.10" y="742.70" width="139.30" height="4.70" fill="#f0e0d3" />
<rect x="81.10" y="751.79" width="146.80" height="4.70" fill="#dca97e" />
<rect x="81.10" y="760.88" width="149.70" height="4.70" fill="#dca97e" />
<rect x="81.10" y="769.97" width="148.70" height="4.70" fill="#dca97e" />
<rect x="81.10" y="779.06" width="141.40" height="4.70" fill="#dca97e" />
<rect x="81.10" y="788.15" width="146.80" height="4.70" fill="#dca97e" />
<rect x="81.10" y="797.24" width="143.70" height="4.70" fill="#dca97e" />
<path d="M217.80,699.60 L220.20,708.69 L220.30,717.78 L219.20,726.87 L222.70,735.96 L221.60,745.05" fill="none" stroke="#6e7890" stroke-width="0.7" />
<path d="M221.60,745.05 L229.10,754.14 L232.00,763.23 L231.00,772.32 L223.70,781.41 L229.10,790.50 L226.00,799.59" fill="none" stroke="#c0752f" stroke-width="0.7" />
<circle cx="217.80" cy="699.60" r="1.32" fill="#5e6880"/>
<circle cx="220.20" cy="708.69" r="1.32" fill="#5e6880"/>
<circle cx="220.30" cy="717.78" r="1.32" fill="#5e6880"/>
<circle cx="219.20" cy="726.87" r="1.32" fill="#5e6880"/>
<circle cx="222.70" cy="735.96" r="1.32" fill="#5e6880"/>
<circle cx="221.60" cy="745.05" r="1.32" fill="#5e6880"/>
<circle cx="229.10" cy="754.14" r="1.32" fill="#a85f22"/>
<circle cx="232.00" cy="763.23" r="1.32" fill="#a85f22"/>
<circle cx="231.00" cy="772.32" r="1.32" fill="#a85f22"/>
<circle cx="223.70" cy="781.41" r="1.32" fill="#a85f22"/>
<circle cx="229.10" cy="790.50" r="1.32" fill="#a85f22"/>
<circle cx="226.00" cy="799.59" r="1.32" fill="#a85f22"/>
<line x1="80.30" y1="693.60" x2="80.30" y2="806.00" stroke="#231f20" stroke-width="1.3" />
<line x1="79.70" y1="805.40" x2="252.30" y2="805.40" stroke="#231f20" stroke-width="1.3" />
<line x1="76.70" y1="699.60" x2="80.30" y2="699.60" stroke="#231f20" stroke-width="1.0" />
<text transform="translate(72.40,702.20) scale(0.950,1)" font-size="7.84" text-anchor="end" fill="#231f20" stroke="#231f20" stroke-width="0.1" font-weight="normal"  textLength="7.79" lengthAdjust="spacingAndGlyphs">−6</text>
<line x1="76.70" y1="708.69" x2="80.30" y2="708.69" stroke="#231f20" stroke-width="1.0" />
<text transform="translate(72.40,711.29) scale(0.950,1)" font-size="7.84" text-anchor="end" fill="#231f20" stroke="#231f20" stroke-width="0.1" font-weight="normal"  textLength="7.79" lengthAdjust="spacingAndGlyphs">−5</text>
<line x1="76.70" y1="717.78" x2="80.30" y2="717.78" stroke="#231f20" stroke-width="1.0" />
<text transform="translate(72.40,720.38) scale(0.950,1)" font-size="7.84" text-anchor="end" fill="#231f20" stroke="#231f20" stroke-width="0.1" font-weight="normal"  textLength="7.79" lengthAdjust="spacingAndGlyphs">−4</text>
<line x1="76.70" y1="726.87" x2="80.30" y2="726.87" stroke="#231f20" stroke-width="1.0" />
<text transform="translate(72.40,729.47) scale(0.950,1)" font-size="7.84" text-anchor="end" fill="#231f20" stroke="#231f20" stroke-width="0.1" font-weight="normal"  textLength="7.79" lengthAdjust="spacingAndGlyphs">−3</text>
<line x1="76.70" y1="735.96" x2="80.30" y2="735.96" stroke="#231f20" stroke-width="1.0" />
<text transform="translate(72.40,738.56) scale(0.950,1)" font-size="7.84" text-anchor="end" fill="#231f20" stroke="#231f20" stroke-width="0.1" font-weight="normal"  textLength="7.79" lengthAdjust="spacingAndGlyphs">−2</text>
<line x1="76.70" y1="745.05" x2="80.30" y2="745.05" stroke="#231f20" stroke-width="1.0" />
<text transform="translate(72.40,747.65) scale(0.950,1)" font-size="7.84" text-anchor="end" fill="#231f20" stroke="#231f20" stroke-width="0.1" font-weight="normal"  textLength="7.79" lengthAdjust="spacingAndGlyphs">−1</text>
<line x1="76.70" y1="754.14" x2="80.30" y2="754.14" stroke="#231f20" stroke-width="1.0" />
<text transform="translate(73.00,756.74) scale(0.950,1)" font-size="7.84" text-anchor="end" fill="#231f20" stroke="#231f20" stroke-width="0.1" font-weight="normal" >1</text>
<line x1="76.70" y1="763.23" x2="80.30" y2="763.23" stroke="#231f20" stroke-width="1.0" />
<text transform="translate(73.00,765.83) scale(0.950,1)" font-size="7.84" text-anchor="end" fill="#231f20" stroke="#231f20" stroke-width="0.1" font-weight="normal" >2</text>
<line x1="76.70" y1="772.32" x2="80.30" y2="772.32" stroke="#231f20" stroke-width="1.0" />
<text transform="translate(73.00,774.92) scale(0.950,1)" font-size="7.84" text-anchor="end" fill="#231f20" stroke="#231f20" stroke-width="0.1" font-weight="normal" >3</text>
<line x1="76.70" y1="781.41" x2="80.30" y2="781.41" stroke="#231f20" stroke-width="1.0" />
<text transform="translate(73.00,784.01) scale(0.950,1)" font-size="7.84" text-anchor="end" fill="#231f20" stroke="#231f20" stroke-width="0.1" font-weight="normal" >6</text>
<line x1="76.70" y1="790.50" x2="80.30" y2="790.50" stroke="#231f20" stroke-width="1.0" />
<text transform="translate(73.00,793.10) scale(0.950,1)" font-size="7.84" text-anchor="end" fill="#231f20" stroke="#231f20" stroke-width="0.1" font-weight="normal" >9</text>
<line x1="76.70" y1="799.59" x2="80.30" y2="799.59" stroke="#231f20" stroke-width="1.0" />
<text transform="translate(73.00,802.19) scale(0.950,1)" font-size="7.84" text-anchor="end" fill="#231f20" stroke="#231f20" stroke-width="0.1" font-weight="normal" >12</text>
<line x1="80.30" y1="805.40" x2="80.30" y2="808.60" stroke="#231f20" stroke-width="1.0" />
<text transform="translate(80.30,819.30) scale(0.950,1)" font-size="7.95" text-anchor="middle" fill="#231f20" stroke="#231f20" stroke-width="0.1" font-weight="normal" >0</text>
<line x1="108.42" y1="805.40" x2="108.42" y2="808.60" stroke="#231f20" stroke-width="1.0" />
<text transform="translate(108.42,819.30) scale(0.950,1)" font-size="7.95" text-anchor="middle" fill="#231f20" stroke="#231f20" stroke-width="0.1" font-weight="normal" >60</text>
<line x1="136.53" y1="805.40" x2="136.53" y2="808.60" stroke="#231f20" stroke-width="1.0" />
<text transform="translate(136.53,819.30) scale(0.950,1)" font-size="7.95" text-anchor="middle" fill="#231f20" stroke="#231f20" stroke-width="0.1" font-weight="normal" >120</text>
<line x1="164.65" y1="805.40" x2="164.65" y2="808.60" stroke="#231f20" stroke-width="1.0" />
<text transform="translate(164.65,819.30) scale(0.950,1)" font-size="7.95" text-anchor="middle" fill="#231f20" stroke="#231f20" stroke-width="0.1" font-weight="normal" >180</text>
<line x1="192.76" y1="805.40" x2="192.76" y2="808.60" stroke="#231f20" stroke-width="1.0" />
<text transform="translate(192.76,819.30) scale(0.950,1)" font-size="7.95" text-anchor="middle" fill="#231f20" stroke="#231f20" stroke-width="0.1" font-weight="normal" >240</text>
<line x1="220.88" y1="805.40" x2="220.88" y2="808.60" stroke="#231f20" stroke-width="1.0" />
<text transform="translate(220.88,819.30) scale(0.950,1)" font-size="7.95" text-anchor="middle" fill="#231f20" stroke="#231f20" stroke-width="0.1" font-weight="normal" >300</text>
<line x1="249.00" y1="805.40" x2="249.00" y2="808.60" stroke="#231f20" stroke-width="1.0" />
<text transform="translate(249.00,819.30) scale(0.950,1)" font-size="7.95" text-anchor="middle" fill="#231f20" stroke="#231f20" stroke-width="0.1" font-weight="normal" >360</text>
<text transform="translate(254.50,828.60) scale(0.950,1)" font-size="7.84" text-anchor="end" fill="#231f20" stroke="#231f20" stroke-width="0.1" font-weight="normal" >(g/L)</text>
<text transform="translate(166.20,687.30) scale(0.950,1)" font-size="9.75" text-anchor="middle" fill="#231f20" stroke="#231f20" stroke-width="0.1" font-weight="normal" >MCHC</text>
<text transform="translate(32.10,685.80)" font-size="13.20" text-anchor="middle" fill="#000" stroke="#000" stroke-width="0" font-weight="bold" >L</text>
<line x1="39.60" y1="699.30" x2="39.60" y2="796.50" stroke="#231f20" stroke-width="1.0" />
<text transform="translate(34.20,747.30) rotate(-90)" font-size="7.85" text-anchor="middle" fill="#231f20" stroke="#231f20" stroke-width="0.1"  textLength="85.5" lengthAdjust="spacingAndGlyphs">Sirolimus (1-2.5 mg/day)</text>
<path d="M52.8,699.1 L55.9,701.6 L59.0,699.1 L59.0,703.8000000000001 L55.9,706.5 L52.8,703.8000000000001 Z" fill="#b4b4b8" stroke="none" stroke-width="1.0" />
<line x1="55.90" y1="705.10" x2="55.90" y2="744.60" stroke="#c2c2c6" stroke-width="1.4" />
<path d="M55.9,743.7 L59.5,748.0 L52.3,748.0 Z" fill="#8e8e92" stroke="none" stroke-width="1.0" />
<text transform="translate(51.0,724.30) rotate(-90)" font-size="7.2" text-anchor="middle" fill="#bcbcc0" stroke="#bcbcc0" stroke-width="0.12">Pre</text>
<path d="M52.4,753.7 L59.4,753.7 L55.9,757.9000000000001 Z" fill="#d4006c" stroke="none" stroke-width="1.0" />
<line x1="55.90" y1="757.20" x2="55.90" y2="794.10" stroke="#e27aac" stroke-width="1.3" />
<path d="M55.9,793.2 L58.9,796.2 L58.9,801.8000000000001 L55.9,799.0 L52.9,801.8000000000001 L52.9,796.2 Z" fill="#e0479a" stroke="none" stroke-width="1.0" />
<text transform="translate(51.0,778.10) rotate(-90)" font-size="7.2" text-anchor="middle" fill="#e0318a" stroke="#e0318a" stroke-width="0.12">Post-</text>
<rect x="294.40" y="697.25" width="114.40" height="4.70" fill="#d8dbda" />
<rect x="294.40" y="706.34" width="79.80" height="4.70" fill="#d8dbda" />
<rect x="294.40" y="715.43" width="129.80" height="4.70" fill="#d8dbda" />
<rect x="294.40" y="724.52" width="91.30" height="4.70" fill="#d8dbda" />
<rect x="294.40" y="733.61" width="117.50" height="4.70" fill="#d8dbda" />
<rect x="294.40" y="742.70" width="99.80" height="4.70" fill="#d8dbda" />
<rect x="294.40" y="751.79" width="119.80" height="4.70" fill="#7b9d8f" />
<rect x="294.40" y="760.88" width="129.80" height="4.70" fill="#7b9d8f" />
<rect x="294.40" y="769.97" width="110.20" height="4.70" fill="#7b9d8f" />
<rect x="294.40" y="779.06" width="109.30" height="4.70" fill="#7b9d8f" />
<rect x="294.40" y="788.15" width="114.40" height="4.70" fill="#7b9d8f" />
<rect x="294.40" y="797.24" width="110.60" height="4.70" fill="#7b9d8f" />
<path d="M410.00,699.60 L375.40,708.69 L425.40,717.78 L386.90,726.87 L413.10,735.96 L395.40,745.05" fill="none" stroke="#8a8a92" stroke-width="0.7" />
<path d="M395.40,745.05 L415.40,754.14 L425.40,763.23 L405.80,772.32 L404.90,781.41 L410.00,790.50 L406.20,799.59" fill="none" stroke="#2b6a55" stroke-width="0.7" />
<circle cx="410.00" cy="699.60" r="0.88" fill="#8a8a92"/>
<circle cx="375.40" cy="708.69" r="0.88" fill="#8a8a92"/>
<circle cx="425.40" cy="717.78" r="0.88" fill="#8a8a92"/>
<circle cx="386.90" cy="726.87" r="0.88" fill="#8a8a92"/>
<circle cx="413.10" cy="735.96" r="0.88" fill="#8a8a92"/>
<circle cx="395.40" cy="745.05" r="0.88" fill="#8a8a92"/>
<circle cx="415.40" cy="754.14" r="0.88" fill="#2b6a55"/>
<circle cx="425.40" cy="763.23" r="0.88" fill="#2b6a55"/>
<circle cx="405.80" cy="772.32" r="0.88" fill="#2b6a55"/>
<circle cx="404.90" cy="781.41" r="0.88" fill="#2b6a55"/>
<circle cx="410.00" cy="790.50" r="0.88" fill="#2b6a55"/>
<circle cx="406.20" cy="799.59" r="0.88" fill="#2b6a55"/>
<line x1="293.60" y1="693.60" x2="293.60" y2="806.00" stroke="#231f20" stroke-width="1.3" />
<line x1="293.00" y1="805.40" x2="464.60" y2="805.40" stroke="#231f20" stroke-width="1.3" />
<line x1="290.00" y1="699.60" x2="293.60" y2="699.60" stroke="#231f20" stroke-width="1.0" />
<text transform="translate(285.70,702.20) scale(0.950,1)" font-size="7.84" text-anchor="end" fill="#231f20" stroke="#231f20" stroke-width="0.1" font-weight="normal"  textLength="7.79" lengthAdjust="spacingAndGlyphs">−6</text>
<line x1="290.00" y1="708.69" x2="293.60" y2="708.69" stroke="#231f20" stroke-width="1.0" />
<text transform="translate(285.70,711.29) scale(0.950,1)" font-size="7.84" text-anchor="end" fill="#231f20" stroke="#231f20" stroke-width="0.1" font-weight="normal"  textLength="7.79" lengthAdjust="spacingAndGlyphs">−5</text>
<line x1="290.00" y1="717.78" x2="293.60" y2="717.78" stroke="#231f20" stroke-width="1.0" />
<text transform="translate(285.70,720.38) scale(0.950,1)" font-size="7.84" text-anchor="end" fill="#231f20" stroke="#231f20" stroke-width="0.1" font-weight="normal"  textLength="7.79" lengthAdjust="spacingAndGlyphs">−4</text>
<line x1="290.00" y1="726.87" x2="293.60" y2="726.87" stroke="#231f20" stroke-width="1.0" />
<text transform="translate(285.70,729.47) scale(0.950,1)" font-size="7.84" text-anchor="end" fill="#231f20" stroke="#231f20" stroke-width="0.1" font-weight="normal"  textLength="7.79" lengthAdjust="spacingAndGlyphs">−3</text>
<line x1="290.00" y1="735.96" x2="293.60" y2="735.96" stroke="#231f20" stroke-width="1.0" />
<text transform="translate(285.70,738.56) scale(0.950,1)" font-size="7.84" text-anchor="end" fill="#231f20" stroke="#231f20" stroke-width="0.1" font-weight="normal"  textLength="7.79" lengthAdjust="spacingAndGlyphs">−2</text>
<line x1="290.00" y1="745.05" x2="293.60" y2="745.05" stroke="#231f20" stroke-width="1.0" />
<text transform="translate(285.70,747.65) scale(0.950,1)" font-size="7.84" text-anchor="end" fill="#231f20" stroke="#231f20" stroke-width="0.1" font-weight="normal"  textLength="7.79" lengthAdjust="spacingAndGlyphs">−1</text>
<line x1="290.00" y1="754.14" x2="293.60" y2="754.14" stroke="#231f20" stroke-width="1.0" />
<text transform="translate(286.30,756.74) scale(0.950,1)" font-size="7.84" text-anchor="end" fill="#231f20" stroke="#231f20" stroke-width="0.1" font-weight="normal" >1</text>
<line x1="290.00" y1="763.23" x2="293.60" y2="763.23" stroke="#231f20" stroke-width="1.0" />
<text transform="translate(286.30,765.83) scale(0.950,1)" font-size="7.84" text-anchor="end" fill="#231f20" stroke="#231f20" stroke-width="0.1" font-weight="normal" >2</text>
<line x1="290.00" y1="772.32" x2="293.60" y2="772.32" stroke="#231f20" stroke-width="1.0" />
<text transform="translate(286.30,774.92) scale(0.950,1)" font-size="7.84" text-anchor="end" fill="#231f20" stroke="#231f20" stroke-width="0.1" font-weight="normal" >3</text>
<line x1="290.00" y1="781.41" x2="293.60" y2="781.41" stroke="#231f20" stroke-width="1.0" />
<text transform="translate(286.30,784.01) scale(0.950,1)" font-size="7.84" text-anchor="end" fill="#231f20" stroke="#231f20" stroke-width="0.1" font-weight="normal" >6</text>
<line x1="290.00" y1="790.50" x2="293.60" y2="790.50" stroke="#231f20" stroke-width="1.0" />
<text transform="translate(286.30,793.10) scale(0.950,1)" font-size="7.84" text-anchor="end" fill="#231f20" stroke="#231f20" stroke-width="0.1" font-weight="normal" >9</text>
<line x1="290.00" y1="799.59" x2="293.60" y2="799.59" stroke="#231f20" stroke-width="1.0" />
<text transform="translate(286.30,802.19) scale(0.950,1)" font-size="7.84" text-anchor="end" fill="#231f20" stroke="#231f20" stroke-width="0.1" font-weight="normal" >12</text>
<line x1="293.60" y1="805.40" x2="293.60" y2="808.60" stroke="#231f20" stroke-width="1.0" />
<text transform="translate(293.60,819.30) scale(0.950,1)" font-size="7.95" text-anchor="middle" fill="#231f20" stroke="#231f20" stroke-width="0.1" font-weight="normal" >0</text>
<line x1="326.96" y1="805.40" x2="326.96" y2="808.60" stroke="#231f20" stroke-width="1.0" />
<text transform="translate(326.96,819.30) scale(0.950,1)" font-size="7.95" text-anchor="middle" fill="#231f20" stroke="#231f20" stroke-width="0.1" font-weight="normal" >2</text>
<line x1="360.32" y1="805.40" x2="360.32" y2="808.60" stroke="#231f20" stroke-width="1.0" />
<text transform="translate(360.32,819.30) scale(0.950,1)" font-size="7.95" text-anchor="middle" fill="#231f20" stroke="#231f20" stroke-width="0.1" font-weight="normal" >4</text>
<line x1="393.68" y1="805.40" x2="393.68" y2="808.60" stroke="#231f20" stroke-width="1.0" />
<text transform="translate(393.68,819.30) scale(0.950,1)" font-size="7.95" text-anchor="middle" fill="#231f20" stroke="#231f20" stroke-width="0.1" font-weight="normal" >6</text>
<line x1="427.04" y1="805.40" x2="427.04" y2="808.60" stroke="#231f20" stroke-width="1.0" />
<text transform="translate(427.04,819.30) scale(0.950,1)" font-size="7.95" text-anchor="middle" fill="#231f20" stroke="#231f20" stroke-width="0.1" font-weight="normal" >8</text>
<line x1="460.40" y1="805.40" x2="460.40" y2="808.60" stroke="#231f20" stroke-width="1.0" />
<text transform="translate(460.40,819.30) scale(0.950,1)" font-size="7.95" text-anchor="middle" fill="#231f20" stroke="#231f20" stroke-width="0.1" font-weight="normal" >10</text>
<text transform="translate(468.40,833.00) scale(0.950,1)" font-size="7.84" text-anchor="end" fill="#231f20" stroke="#231f20" stroke-width="0.1" font-weight="normal" >(10<tspan font-size="5.2" dy="-3.4">9</tspan><tspan dy="3.4">/L)</tspan></text>
<text transform="translate(379.20,687.30) scale(0.950,1)" font-size="9.75" text-anchor="middle" fill="#231f20" stroke="#231f20" stroke-width="0.1" font-weight="normal" >WBC</text>
<text transform="translate(281.90,685.80)" font-size="13.20" text-anchor="middle" fill="#000" stroke="#000" stroke-width="0" font-weight="bold" >M</text>
<line x1="481.60" y1="172.60" x2="481.60" y2="803.80" stroke="#231f20" stroke-width="1.0" />
<text transform="translate(487.40,487.40) rotate(90)" font-size="7.8" text-anchor="middle" fill="#231f20" stroke="#231f20" stroke-width="0.1"  textLength="70.0" lengthAdjust="spacingAndGlyphs">Time points (months)</text>
<rect x="0.5" y="0.5" width="519" height="842" fill="none" stroke="#3a3a3a" stroke-width="1.2"/>
</svg>
</body></html>
